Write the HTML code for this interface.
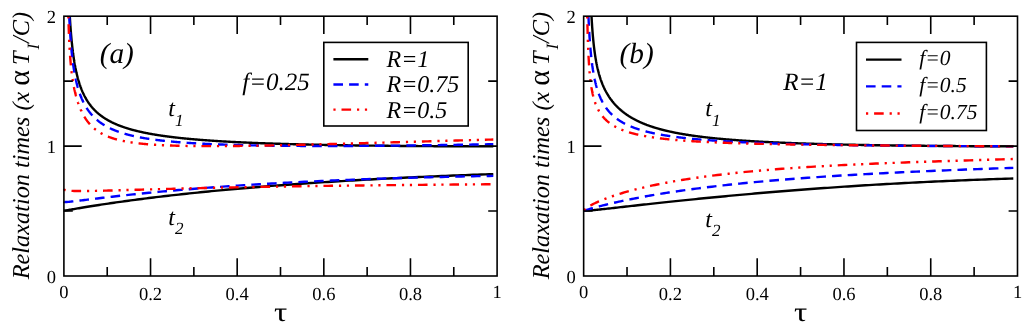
<!DOCTYPE html>
<html><head><meta charset="utf-8"><title>Relaxation times</title>
<style>
html,body{margin:0;padding:0;background:#fff;}
body{width:1024px;height:328px;overflow:hidden;font-family:"Liberation Serif",serif;}
svg{display:block;will-change:transform;text-rendering:geometricPrecision}
text{font-family:"Liberation Serif",serif;fill:#000}
.tk{font-size:18.5px}
.yl{font-size:24.3px;font-style:italic}
.yl .sym{font-style:normal;font-size:30px}
.sub{font-size:71%}
.tau{font-size:27px}
.pl{font-size:29.3px;font-style:italic}
.lab{font-size:24px;font-style:italic}
.lb{font-size:21.5px;font-style:italic}
.an{font-size:25px;font-style:italic}
</style></head><body>
<svg width="1024" height="328" viewBox="0 0 1024 328">
<rect width="1024" height="328" fill="#fff"/>
<path d="M69.80,16.20 L69.81,16.40 L69.84,17.02 L69.88,17.63 L69.92,18.24 L69.95,18.85 L69.99,19.45 L70.03,20.05 L70.07,20.64 L70.10,21.24 L70.14,21.83 L70.18,22.41 L70.22,23.00 L70.26,23.58 L70.30,24.15 L70.34,24.73 L70.38,25.30 L70.42,25.87 L70.46,26.43 L70.50,26.99 L70.54,27.55 L70.58,28.11 L70.62,28.66 L70.66,29.21 L70.70,29.75 L70.74,30.30 L70.79,30.84 L70.83,31.38 L70.87,31.91 L70.91,32.44 L70.96,32.97 L71.00,33.50 L71.04,34.02 L71.09,34.54 L71.13,35.06 L71.18,35.58 L71.22,36.09 L71.27,36.60 L71.31,37.11 L71.36,37.61 L71.40,38.12 L71.45,38.62 L71.50,39.11 L71.54,39.61 L71.59,40.10 L71.64,40.59 L71.68,41.08 L71.73,41.56 L71.78,42.04 L71.83,42.52 L71.88,43.00 L71.93,43.48 L71.98,43.95 L72.03,44.42 L72.08,44.89 L72.13,45.35 L72.18,45.82 L72.23,46.28 L72.28,46.74 L72.33,47.19 L72.38,47.65 L72.43,48.10 L72.49,48.55 L72.54,49.00 L72.59,49.44 L72.65,49.89 L72.70,50.33 L72.75,50.77 L72.81,51.20 L72.86,51.64 L72.92,52.07 L72.97,52.50 L73.03,52.93 L73.09,53.36 L73.14,53.78 L73.20,54.20 L73.26,54.63 L73.31,55.04 L73.37,55.46 L73.43,55.87 L73.49,56.29 L73.55,56.70 L73.61,57.11 L73.67,57.51 L73.73,57.92 L73.79,58.32 L73.85,58.72 L73.91,59.12 L73.97,59.52 L74.03,59.92 L74.09,60.31 L74.16,60.70 L74.22,61.09 L74.28,61.48 L74.35,61.87 L74.41,62.25 L74.48,62.64 L74.54,63.02 L74.61,63.40 L74.67,63.78 L74.74,64.15 L74.81,64.53 L74.87,64.90 L74.94,65.27 L75.01,65.64 L75.08,66.01 L75.15,66.38 L75.21,66.74 L75.28,67.11 L75.35,67.47 L75.43,67.83 L75.50,68.19 L75.57,68.54 L75.64,68.90 L75.71,69.25 L75.78,69.61 L75.86,69.96 L75.93,70.31 L76.00,70.65 L76.08,71.00 L76.15,71.34 L76.23,71.69 L76.31,72.03 L76.38,72.37 L76.46,72.71 L76.54,73.05 L76.61,73.38 L76.69,73.72 L76.77,74.05 L76.85,74.38 L76.93,74.71 L77.01,75.04 L77.09,75.37 L77.17,75.70 L77.25,76.02 L77.33,76.34 L77.42,76.67 L77.50,76.99 L77.58,77.31 L77.67,77.62 L77.75,77.94 L77.84,78.26 L77.92,78.57 L78.01,78.88 L78.10,79.20 L78.18,79.51 L78.27,79.82 L78.36,80.12 L78.45,80.43 L78.54,80.74 L78.63,81.04 L78.72,81.34 L78.81,81.64 L78.90,81.94 L78.99,82.24 L79.09,82.54 L79.18,82.84 L79.27,83.13 L79.37,83.43 L79.46,83.72 L79.56,84.01 L79.66,84.30 L79.75,84.59 L79.85,84.88 L79.95,85.17 L80.05,85.46 L80.15,85.74 L80.25,86.03 L80.35,86.31 L80.45,86.59 L80.55,86.87 L80.65,87.15 L80.76,87.43 L80.86,87.71 L80.96,87.98 L81.07,88.26 L81.17,88.53 L81.28,88.80 L81.39,89.08 L81.50,89.35 L81.60,89.62 L81.71,89.89 L81.82,90.15 L81.93,90.42 L82.04,90.68 L82.15,90.95 L82.27,91.21 L82.38,91.48 L82.49,91.74 L82.61,92.00 L82.72,92.26 L82.84,92.52 L82.96,92.77 L83.07,93.03 L83.19,93.29 L83.31,93.54 L83.43,93.79 L83.55,94.05 L83.67,94.30 L83.79,94.55 L83.91,94.80 L84.04,95.05 L84.16,95.29 L84.28,95.54 L84.41,95.79 L84.54,96.03 L84.66,96.28 L84.79,96.52 L84.92,96.76 L85.05,97.00 L85.18,97.24 L85.31,97.48 L85.44,97.72 L85.57,97.96 L85.71,98.20 L85.84,98.43 L85.98,98.67 L86.11,98.90 L86.25,99.13 L86.39,99.37 L86.52,99.60 L86.66,99.83 L86.80,100.06 L86.94,100.29 L87.09,100.51 L87.23,100.74 L87.37,100.97 L87.52,101.19 L87.66,101.42 L87.81,101.64 L87.96,101.86 L88.10,102.09 L88.25,102.31 L88.40,102.53 L88.55,102.75 L88.70,102.97 L88.86,103.18 L89.01,103.40 L89.16,103.62 L89.32,103.83 L89.48,104.05 L89.63,104.26 L89.79,104.48 L89.95,104.69 L90.11,104.90 L90.27,105.11 L90.44,105.32 L90.60,105.53 L90.76,105.74 L90.93,105.95 L91.09,106.15 L91.26,106.36 L91.43,106.56 L91.60,106.77 L91.77,106.97 L91.94,107.18 L92.11,107.38 L92.29,107.58 L92.46,107.78 L92.64,107.98 L92.81,108.18 L92.99,108.38 L93.17,108.58 L93.35,108.77 L93.53,108.97 L93.71,109.16 L93.90,109.36 L94.08,109.55 L94.27,109.75 L94.45,109.94 L94.64,110.13 L94.83,110.32 L95.02,110.51 L95.21,110.70 L95.41,110.89 L95.60,111.08 L95.79,111.27 L95.99,111.46 L96.19,111.64 L96.39,111.83 L96.59,112.01 L96.79,112.20 L96.99,112.38 L97.19,112.56 L97.40,112.75 L97.60,112.93 L97.81,113.11 L98.02,113.29 L98.23,113.47 L98.44,113.65 L98.65,113.82 L98.87,114.00 L99.08,114.18 L99.30,114.35 L99.52,114.53 L99.74,114.70 L99.96,114.88 L100.18,115.05 L100.40,115.23 L100.63,115.40 L100.85,115.57 L101.08,115.74 L101.31,115.91 L101.54,116.08 L101.77,116.25 L102.00,116.42 L102.24,116.58 L102.47,116.75 L102.71,116.92 L102.95,117.08 L103.19,117.25 L103.43,117.41 L103.67,117.58 L103.92,117.74 L104.16,117.90 L104.41,118.07 L104.66,118.23 L104.91,118.39 L105.16,118.55 L105.42,118.71 L105.67,118.87 L105.93,119.02 L106.19,119.18 L106.45,119.34 L106.71,119.50 L106.97,119.65 L107.24,119.81 L107.50,119.96 L107.77,120.12 L108.04,120.27 L108.31,120.42 L108.59,120.57 L108.86,120.73 L109.14,120.88 L109.42,121.03 L109.70,121.18 L109.98,121.33 L110.26,121.48 L110.55,121.62 L110.83,121.77 L111.12,121.92 L111.41,122.07 L111.71,122.21 L112.00,122.36 L112.30,122.50 L112.59,122.65 L112.89,122.79 L113.19,122.93 L113.50,123.07 L113.80,123.22 L114.11,123.36 L114.42,123.50 L114.73,123.64 L115.04,123.78 L115.36,123.92 L115.67,124.06 L115.99,124.19 L116.31,124.33 L116.63,124.47 L116.96,124.60 L117.28,124.74 L117.61,124.88 L117.94,125.01 L118.28,125.14 L118.61,125.28 L118.95,125.41 L119.28,125.54 L119.63,125.68 L119.97,125.81 L120.31,125.94 L120.66,126.07 L121.01,126.20 L121.36,126.33 L121.71,126.46 L122.07,126.59 L122.43,126.71 L122.79,126.84 L123.15,126.97 L123.51,127.09 L123.88,127.22 L124.25,127.34 L124.62,127.47 L124.99,127.59 L125.37,127.72 L125.75,127.84 L126.13,127.96 L126.51,128.08 L126.90,128.21 L127.28,128.33 L127.67,128.45 L128.07,128.57 L128.46,128.69 L128.86,128.81 L129.26,128.92 L129.66,129.04 L130.06,129.16 L130.47,129.28 L130.88,129.39 L131.29,129.51 L131.71,129.62 L132.12,129.74 L132.54,129.85 L132.97,129.97 L133.39,130.08 L133.82,130.19 L134.25,130.31 L134.68,130.42 L135.12,130.53 L135.55,130.64 L135.99,130.75 L136.44,130.86 L136.88,130.97 L137.33,131.08 L137.79,131.19 L138.24,131.30 L138.70,131.41 L139.16,131.51 L139.62,131.62 L140.09,131.73 L140.55,131.83 L141.03,131.94 L141.50,132.04 L141.98,132.15 L142.46,132.25 L142.94,132.36 L143.43,132.46 L143.92,132.56 L144.41,132.66 L144.90,132.76 L145.40,132.87 L145.90,132.97 L146.41,133.07 L146.91,133.17 L147.43,133.27 L147.94,133.37 L148.46,133.46 L148.98,133.56 L149.50,133.66 L150.03,133.76 L150.56,133.85 L151.09,133.95 L151.62,134.05 L152.16,134.14 L152.71,134.24 L153.25,134.33 L153.80,134.42 L154.36,134.52 L154.91,134.61 L155.47,134.70 L156.04,134.80 L156.60,134.89 L157.17,134.98 L157.75,135.07 L158.32,135.16 L158.90,135.25 L159.49,135.34 L160.08,135.43 L160.67,135.52 L161.26,135.61 L161.86,135.69 L162.46,135.78 L163.07,135.87 L163.68,135.96 L164.29,136.04 L164.91,136.13 L165.53,136.21 L166.16,136.30 L166.79,136.38 L167.42,136.47 L168.06,136.55 L168.70,136.63 L169.34,136.72 L169.99,136.80 L170.64,136.88 L171.30,136.96 L171.96,137.05 L172.63,137.13 L173.29,137.21 L173.97,137.29 L174.64,137.37 L175.33,137.45 L176.01,137.52 L176.70,137.60 L177.39,137.68 L178.09,137.76 L178.79,137.84 L179.50,137.91 L180.21,137.99 L180.93,138.07 L181.65,138.14 L182.37,138.22 L183.10,138.29 L183.83,138.37 L184.57,138.44 L185.31,138.51 L186.06,138.59 L186.81,138.66 L187.57,138.73 L188.33,138.80 L189.09,138.88 L189.86,138.95 L190.64,139.02 L191.42,139.09 L192.20,139.16 L192.99,139.23 L193.79,139.30 L194.58,139.37 L195.39,139.44 L196.20,139.51 L197.01,139.57 L197.83,139.64 L198.65,139.71 L199.48,139.77 L200.32,139.84 L201.16,139.91 L202.00,139.97 L202.85,140.04 L203.70,140.10 L204.56,140.17 L205.43,140.23 L206.30,140.30 L207.17,140.36 L208.06,140.42 L208.94,140.49 L209.83,140.55 L210.73,140.61 L211.64,140.67 L212.54,140.73 L213.46,140.79 L214.38,140.85 L215.30,140.92 L216.24,140.97 L217.17,141.03 L218.12,141.09 L219.06,141.15 L220.02,141.21 L220.98,141.27 L221.94,141.33 L222.92,141.38 L223.89,141.44 L224.88,141.50 L225.87,141.55 L226.87,141.61 L227.87,141.67 L228.88,141.72 L229.89,141.78 L230.91,141.83 L231.94,141.89 L232.97,141.94 L234.01,141.99 L235.06,142.05 L236.11,142.10 L237.17,142.15 L238.24,142.20 L239.31,142.26 L240.39,142.31 L241.47,142.36 L242.57,142.41 L243.66,142.46 L244.77,142.51 L245.88,142.56 L247.00,142.61 L248.13,142.66 L249.26,142.71 L250.40,142.76 L251.55,142.80 L252.70,142.85 L253.86,142.90 L255.03,142.95 L256.21,142.99 L257.39,143.04 L258.58,143.09 L259.78,143.13 L260.98,143.18 L262.20,143.22 L263.42,143.27 L264.64,143.31 L265.88,143.36 L267.12,143.40 L268.37,143.45 L269.63,143.49 L270.89,143.53 L272.17,143.57 L273.45,143.62 L274.74,143.66 L276.03,143.70 L277.34,143.74 L278.65,143.78 L279.97,143.82 L281.30,143.86 L282.64,143.90 L283.98,143.94 L285.34,143.98 L286.70,144.02 L288.07,144.06 L289.45,144.10 L290.83,144.14 L292.23,144.17 L293.64,144.21 L295.05,144.25 L296.47,144.29 L297.90,144.32 L299.34,144.36 L300.79,144.40 L302.24,144.43 L303.71,144.47 L305.19,144.50 L306.67,144.54 L308.16,144.57 L309.67,144.60 L311.18,144.64 L312.70,144.67 L314.23,144.70 L315.77,144.74 L317.32,144.77 L318.88,144.80 L320.44,144.83 L322.02,144.87 L323.61,144.90 L325.21,144.93 L326.81,144.96 L328.43,144.99 L330.06,145.02 L331.70,145.05 L333.34,145.08 L335.00,145.11 L336.67,145.14 L338.35,145.16 L340.03,145.19 L341.73,145.22 L343.44,145.25 L345.16,145.28 L346.89,145.30 L348.63,145.33 L350.38,145.35 L352.14,145.38 L353.92,145.41 L355.70,145.43 L357.50,145.46 L359.30,145.48 L361.12,145.51 L362.95,145.53 L364.79,145.55 L366.64,145.58 L368.50,145.60 L370.37,145.62 L372.26,145.65 L374.15,145.67 L376.06,145.69 L377.98,145.71 L379.92,145.73 L381.86,145.75 L383.81,145.78 L385.78,145.80 L387.76,145.82 L389.75,145.84 L391.76,145.85 L393.77,145.87 L395.80,145.89 L397.85,145.91 L399.90,145.93 L401.97,145.95 L404.05,145.96 L406.14,145.98 L408.24,146.00 L410.36,146.02 L412.49,146.03 L414.64,146.05 L416.79,146.06 L418.96,146.08 L421.15,146.09 L423.35,146.11 L425.56,146.12 L427.78,146.14 L430.02,146.15 L432.27,146.16 L434.54,146.18 L436.82,146.19 L439.11,146.20 L441.42,146.21 L443.74,146.23 L446.08,146.24 L448.43,146.25 L450.79,146.26 L453.17,146.27 L455.57,146.28 L457.97,146.29 L460.40,146.30 L462.84,146.31 L465.29,146.32 L467.76,146.32 L470.24,146.33 L472.74,146.34 L475.26,146.35 L477.79,146.35 L480.33,146.36 L482.90,146.37 L485.47,146.37 L488.07,146.38 L490.67,146.38 L493.30,146.39" stroke="#000" stroke-width="2.4" fill="none"/>
<path d="M63.90,210.51 L64.11,210.57 L64.51,210.56 L65.01,210.51 L65.61,210.43 L66.29,210.34 L67.05,210.22 L67.87,210.09 L68.75,209.95 L69.68,209.79 L70.67,209.62 L71.71,209.45 L72.80,209.26 L73.94,209.07 L75.12,208.87 L76.34,208.66 L77.61,208.44 L78.91,208.22 L80.26,208.00 L81.64,207.76 L83.06,207.53 L84.51,207.29 L86.00,207.04 L87.52,206.79 L89.08,206.54 L90.67,206.28 L92.29,206.02 L93.95,205.76 L95.63,205.49 L97.35,205.23 L99.09,204.96 L100.87,204.68 L102.67,204.41 L104.50,204.13 L106.36,203.85 L108.25,203.57 L110.16,203.29 L112.10,203.00 L114.07,202.72 L116.06,202.43 L118.08,202.15 L120.13,201.86 L122.20,201.57 L124.29,201.28 L126.41,200.99 L128.55,200.70 L130.72,200.41 L132.91,200.11 L135.12,199.82 L137.36,199.53 L139.62,199.23 L141.90,198.94 L144.21,198.65 L146.54,198.35 L148.89,198.06 L151.26,197.77 L153.65,197.47 L156.07,197.18 L158.50,196.89 L160.96,196.60 L163.44,196.31 L165.94,196.01 L168.46,195.72 L171.00,195.43 L173.56,195.14 L176.14,194.86 L178.74,194.57 L181.36,194.28 L184.00,193.99 L186.66,193.71 L189.33,193.42 L192.03,193.14 L194.75,192.86 L197.48,192.57 L200.24,192.29 L203.01,192.01 L205.80,191.73 L208.61,191.46 L211.44,191.18 L214.29,190.90 L217.15,190.63 L220.03,190.36 L222.93,190.08 L225.85,189.81 L228.79,189.54 L231.74,189.27 L234.71,189.01 L237.70,188.74 L240.70,188.48 L243.73,188.22 L246.76,187.95 L249.82,187.70 L252.89,187.44 L255.98,187.18 L259.09,186.93 L262.21,186.67 L265.35,186.42 L268.51,186.17 L271.68,185.92 L274.87,185.67 L278.07,185.43 L281.29,185.18 L284.53,184.94 L287.78,184.70 L291.05,184.46 L294.34,184.22 L297.64,183.99 L300.95,183.75 L304.28,183.52 L307.63,183.29 L310.99,183.06 L314.37,182.83 L317.76,182.61 L321.17,182.38 L324.59,182.16 L328.03,181.94 L331.48,181.72 L334.95,181.51 L338.43,181.29 L341.93,181.08 L345.44,180.87 L348.97,180.66 L352.51,180.45 L356.06,180.25 L359.63,180.04 L363.22,179.84 L366.82,179.64 L370.43,179.44 L374.06,179.25 L377.70,179.05 L381.35,178.86 L385.02,178.67 L388.71,178.48 L392.41,178.30 L396.12,178.11 L399.84,177.93 L403.58,177.75 L407.34,177.57 L411.10,177.39 L414.88,177.22 L418.68,177.04 L422.49,176.87 L426.31,176.70 L430.14,176.53 L433.99,176.37 L437.85,176.20 L441.73,176.04 L445.62,175.88 L449.52,175.72 L453.43,175.57 L457.36,175.41 L461.30,175.26 L465.26,175.11 L469.23,174.96 L473.21,174.82 L477.20,174.67 L481.20,174.53 L485.22,174.39 L489.26,174.25 L493.30,174.11" stroke="#000" stroke-width="2.4" fill="none"/>
<path d="M69.26,16.20 L69.29,16.73 L69.32,17.46 L69.35,18.18 L69.39,18.90 L69.42,19.61 L69.46,20.32 L69.49,21.02 L69.52,21.71 L69.56,22.40 L69.59,23.08 L69.63,23.76 L69.66,24.44 L69.70,25.10 L69.73,25.77 L69.77,26.42 L69.81,27.08 L69.84,27.73 L69.88,28.37 L69.92,29.01 L69.95,29.64 L69.99,30.27 L70.03,30.89 L70.07,31.51 L70.10,32.13 L70.14,32.74 L70.18,33.34 L70.22,33.94 L70.26,34.54 L70.30,35.13 L70.34,35.72 L70.38,36.31 L70.42,36.89 L70.46,37.46 L70.50,38.03 L70.54,38.60 L70.58,39.17 L70.62,39.73 L70.66,40.28 L70.70,40.83 L70.74,41.38 L70.79,41.93 L70.83,42.47 L70.87,43.01 L70.91,43.54 L70.96,44.07 L71.00,44.60 L71.04,45.12 L71.09,45.64 L71.13,46.16 L71.18,46.67 L71.22,47.18 L71.27,47.69 L71.31,48.19 L71.36,48.69 L71.40,49.19 L71.45,49.68 L71.50,50.17 L71.54,50.66 L71.59,51.15 L71.64,51.63 L71.68,52.11 L71.73,52.58 L71.78,53.05 L71.83,53.52 L71.88,53.99 L71.93,54.46 L71.98,54.92 L72.03,55.38 L72.08,55.83 L72.13,56.29 L72.18,56.74 L72.23,57.18 L72.28,57.63 L72.33,58.07 L72.38,58.51 L72.43,58.95 L72.49,59.39 L72.54,59.82 L72.59,60.25 L72.65,60.68 L72.70,61.10 L72.75,61.53 L72.81,61.95 L72.86,62.36 L72.92,62.78 L72.97,63.19 L73.03,63.61 L73.09,64.02 L73.14,64.42 L73.20,64.83 L73.26,65.23 L73.31,65.63 L73.37,66.03 L73.43,66.43 L73.49,66.82 L73.55,67.21 L73.61,67.60 L73.67,67.99 L73.73,68.38 L73.79,68.76 L73.85,69.15 L73.91,69.53 L73.97,69.91 L74.03,70.28 L74.09,70.66 L74.16,71.03 L74.22,71.40 L74.28,71.77 L74.35,72.14 L74.41,72.50 L74.48,72.87 L74.54,73.23 L74.61,73.59 L74.67,73.95 L74.74,74.31 L74.81,74.66 L74.87,75.01 L74.94,75.37 L75.01,75.72 L75.08,76.06 L75.15,76.41 L75.21,76.76 L75.28,77.10 L75.35,77.44 L75.43,77.78 L75.50,78.12 L75.57,78.46 L75.64,78.80 L75.71,79.13 L75.78,79.46 L75.86,79.79 L75.93,80.12 L76.00,80.45 L76.08,80.78 L76.15,81.10 L76.23,81.43 L76.31,81.75 L76.38,82.07 L76.46,82.39 L76.54,82.71 L76.61,83.03 L76.69,83.34 L76.77,83.66 L76.85,83.97 L76.93,84.28 L77.01,84.59 L77.09,84.90 L77.17,85.21 L77.25,85.52 L77.33,85.82 L77.42,86.13 L77.50,86.43 L77.58,86.73 L77.67,87.03 L77.75,87.33 L77.84,87.63 L77.92,87.92 L78.01,88.22 L78.10,88.51 L78.18,88.81 L78.27,89.10 L78.36,89.39 L78.45,89.68 L78.54,89.96 L78.63,90.25 L78.72,90.54 L78.81,90.82 L78.90,91.11 L78.99,91.39 L79.09,91.67 L79.18,91.95 L79.27,92.23 L79.37,92.51 L79.46,92.78 L79.56,93.06 L79.66,93.33 L79.75,93.61 L79.85,93.88 L79.95,94.15 L80.05,94.42 L80.15,94.69 L80.25,94.96 L80.35,95.23 L80.45,95.49 L80.55,95.76 L80.65,96.02 L80.76,96.29 L80.86,96.55 L80.96,96.81 L81.07,97.07 L81.17,97.33 L81.28,97.59 L81.39,97.84 L81.50,98.10 L81.60,98.36 L81.71,98.61 L81.82,98.86 L81.93,99.12 L82.04,99.37 L82.15,99.62 L82.27,99.87 L82.38,100.12 L82.49,100.36 L82.61,100.61 L82.72,100.86 L82.84,101.10 L82.96,101.35 L83.07,101.59 L83.19,101.83 L83.31,102.07 L83.43,102.31 L83.55,102.55 L83.67,102.79 L83.79,103.03 L83.91,103.26 L84.04,103.50 L84.16,103.74 L84.28,103.97 L84.41,104.20 L84.54,104.44 L84.66,104.67 L84.79,104.90 L84.92,105.13 L85.05,105.36 L85.18,105.58 L85.31,105.81 L85.44,106.04 L85.57,106.26 L85.71,106.49 L85.84,106.71 L85.98,106.94 L86.11,107.16 L86.25,107.38 L86.39,107.60 L86.52,107.82 L86.66,108.04 L86.80,108.26 L86.94,108.47 L87.09,108.69 L87.23,108.91 L87.37,109.12 L87.52,109.33 L87.66,109.55 L87.81,109.76 L87.96,109.97 L88.10,110.18 L88.25,110.39 L88.40,110.60 L88.55,110.81 L88.70,111.02 L88.86,111.22 L89.01,111.43 L89.16,111.64 L89.32,111.84 L89.48,112.04 L89.63,112.25 L89.79,112.45 L89.95,112.65 L90.11,112.85 L90.27,113.05 L90.44,113.25 L90.60,113.45 L90.76,113.65 L90.93,113.84 L91.09,114.04 L91.26,114.23 L91.43,114.43 L91.60,114.62 L91.77,114.81 L91.94,115.01 L92.11,115.20 L92.29,115.39 L92.46,115.58 L92.64,115.77 L92.81,115.96 L92.99,116.15 L93.17,116.33 L93.35,116.52 L93.53,116.70 L93.71,116.89 L93.90,117.07 L94.08,117.26 L94.27,117.44 L94.45,117.62 L94.64,117.80 L94.83,117.98 L95.02,118.16 L95.21,118.34 L95.41,118.52 L95.60,118.70 L95.79,118.87 L95.99,119.05 L96.19,119.23 L96.39,119.40 L96.59,119.58 L96.79,119.75 L96.99,119.92 L97.19,120.09 L97.40,120.26 L97.60,120.44 L97.81,120.60 L98.02,120.77 L98.23,120.94 L98.44,121.11 L98.65,121.28 L98.87,121.44 L99.08,121.61 L99.30,121.77 L99.52,121.94 L99.74,122.10 L99.96,122.27 L100.18,122.43 L100.40,122.59 L100.63,122.75 L100.85,122.91 L101.08,123.07 L101.31,123.23 L101.54,123.39 L101.77,123.54 L102.00,123.70 L102.24,123.86 L102.47,124.01 L102.71,124.17 L102.95,124.32 L103.19,124.47 L103.43,124.63 L103.67,124.78 L103.92,124.93 L104.16,125.08 L104.41,125.23 L104.66,125.38 L104.91,125.53 L105.16,125.68 L105.42,125.82 L105.67,125.97 L105.93,126.12 L106.19,126.26 L106.45,126.41 L106.71,126.55 L106.97,126.70 L107.24,126.84 L107.50,126.98 L107.77,127.12 L108.04,127.26 L108.31,127.40 L108.59,127.54 L108.86,127.68 L109.14,127.82 L109.42,127.96 L109.70,128.10 L109.98,128.23 L110.26,128.37 L110.55,128.50 L110.83,128.64 L111.12,128.77 L111.41,128.90 L111.71,129.04 L112.00,129.17 L112.30,129.30 L112.59,129.43 L112.89,129.56 L113.19,129.69 L113.50,129.82 L113.80,129.95 L114.11,130.08 L114.42,130.20 L114.73,130.33 L115.04,130.46 L115.36,130.58 L115.67,130.71 L115.99,130.83 L116.31,130.95 L116.63,131.08 L116.96,131.20 L117.28,131.32 L117.61,131.44 L117.94,131.56 L118.28,131.68 L118.61,131.80 L118.95,131.92 L119.28,132.04 L119.63,132.15 L119.97,132.27 L120.31,132.39 L120.66,132.50 L121.01,132.62 L121.36,132.73 L121.71,132.84 L122.07,132.96 L122.43,133.07 L122.79,133.18 L123.15,133.29 L123.51,133.40 L123.88,133.52 L124.25,133.62 L124.62,133.73 L124.99,133.84 L125.37,133.95 L125.75,134.06 L126.13,134.16 L126.51,134.27 L126.90,134.38 L127.28,134.48 L127.67,134.59 L128.07,134.69 L128.46,134.79 L128.86,134.90 L129.26,135.00 L129.66,135.10 L130.06,135.20 L130.47,135.30 L130.88,135.40 L131.29,135.50 L131.71,135.60 L132.12,135.70 L132.54,135.80 L132.97,135.89 L133.39,135.99 L133.82,136.09 L134.25,136.18 L134.68,136.28 L135.12,136.37 L135.55,136.47 L135.99,136.56 L136.44,136.65 L136.88,136.75 L137.33,136.84 L137.79,136.93 L138.24,137.02 L138.70,137.11 L139.16,137.20 L139.62,137.29 L140.09,137.38 L140.55,137.47 L141.03,137.55 L141.50,137.64 L141.98,137.73 L142.46,137.81 L142.94,137.90 L143.43,137.99 L143.92,138.07 L144.41,138.15 L144.90,138.24 L145.40,138.32 L145.90,138.40 L146.41,138.48 L146.91,138.57 L147.43,138.65 L147.94,138.73 L148.46,138.81 L148.98,138.89 L149.50,138.97 L150.03,139.04 L150.56,139.12 L151.09,139.20 L151.62,139.28 L152.16,139.35 L152.71,139.43 L153.25,139.51 L153.80,139.58 L154.36,139.65 L154.91,139.73 L155.47,139.80 L156.04,139.88 L156.60,139.95 L157.17,140.02 L157.75,140.09 L158.32,140.16 L158.90,140.23 L159.49,140.30 L160.08,140.37 L160.67,140.44 L161.26,140.51 L161.86,140.58 L162.46,140.65 L163.07,140.71 L163.68,140.78 L164.29,140.85 L164.91,140.91 L165.53,140.98 L166.16,141.04 L166.79,141.11 L167.42,141.17 L168.06,141.24 L168.70,141.30 L169.34,141.36 L169.99,141.42 L170.64,141.49 L171.30,141.55 L171.96,141.61 L172.63,141.67 L173.29,141.73 L173.97,141.79 L174.64,141.85 L175.33,141.91 L176.01,141.96 L176.70,142.02 L177.39,142.08 L178.09,142.14 L178.79,142.19 L179.50,142.25 L180.21,142.30 L180.93,142.36 L181.65,142.41 L182.37,142.47 L183.10,142.52 L183.83,142.58 L184.57,142.63 L185.31,142.68 L186.06,142.73 L186.81,142.78 L187.57,142.84 L188.33,142.89 L189.09,142.94 L189.86,142.99 L190.64,143.04 L191.42,143.08 L192.20,143.13 L192.99,143.18 L193.79,143.23 L194.58,143.28 L195.39,143.32 L196.20,143.37 L197.01,143.42 L197.83,143.46 L198.65,143.51 L199.48,143.55 L200.32,143.60 L201.16,143.64 L202.00,143.68 L202.85,143.73 L203.70,143.77 L204.56,143.81 L205.43,143.85 L206.30,143.90 L207.17,143.94 L208.06,143.98 L208.94,144.02 L209.83,144.06 L210.73,144.10 L211.64,144.14 L212.54,144.17 L213.46,144.21 L214.38,144.25 L215.30,144.29 L216.24,144.32 L217.17,144.36 L218.12,144.40 L219.06,144.43 L220.02,144.47 L220.98,144.50 L221.94,144.54 L222.92,144.57 L223.89,144.61 L224.88,144.64 L225.87,144.67 L226.87,144.70 L227.87,144.74 L228.88,144.77 L229.89,144.80 L230.91,144.83 L231.94,144.86 L232.97,144.89 L234.01,144.92 L235.06,144.95 L236.11,144.98 L237.17,145.01 L238.24,145.04 L239.31,145.06 L240.39,145.09 L241.47,145.12 L242.57,145.14 L243.66,145.17 L244.77,145.20 L245.88,145.22 L247.00,145.25 L248.13,145.27 L249.26,145.30 L250.40,145.32 L251.55,145.34 L252.70,145.37 L253.86,145.39 L255.03,145.41 L256.21,145.43 L257.39,145.45 L258.58,145.47 L259.78,145.49 L260.98,145.51 L262.20,145.53 L263.42,145.55 L264.64,145.57 L265.88,145.59 L267.12,145.61 L268.37,145.63 L269.63,145.64 L270.89,145.66 L272.17,145.68 L273.45,145.69 L274.74,145.71 L276.03,145.72 L277.34,145.74 L278.65,145.75 L279.97,145.77 L281.30,145.78 L282.64,145.79 L283.98,145.81 L285.34,145.82 L286.70,145.83 L288.07,145.84 L289.45,145.85 L290.83,145.86 L292.23,145.87 L293.64,145.88 L295.05,145.89 L296.47,145.90 L297.90,145.91 L299.34,145.92 L300.79,145.93 L302.24,145.93 L303.71,145.94 L305.19,145.95 L306.67,145.95 L308.16,145.96 L309.67,145.96 L311.18,145.97 L312.70,145.97 L314.23,145.98 L315.77,145.98 L317.32,145.98 L318.88,145.99 L320.44,145.99 L322.02,145.99 L323.61,145.99 L325.21,145.99 L326.81,145.99 L328.43,145.99 L330.06,145.99 L331.70,145.99 L333.34,145.99 L335.00,145.98 L336.67,145.98 L338.35,145.98 L340.03,145.97 L341.73,145.97 L343.44,145.97 L345.16,145.96 L346.89,145.95 L348.63,145.95 L350.38,145.94 L352.14,145.93 L353.92,145.93 L355.70,145.92 L357.50,145.91 L359.30,145.90 L361.12,145.89 L362.95,145.88 L364.79,145.87 L366.64,145.86 L368.50,145.85 L370.37,145.84 L372.26,145.82 L374.15,145.81 L376.06,145.80 L377.98,145.78 L379.92,145.77 L381.86,145.75 L383.81,145.73 L385.78,145.72 L387.76,145.70 L389.75,145.68 L391.76,145.66 L393.77,145.64 L395.80,145.62 L397.85,145.60 L399.90,145.58 L401.97,145.56 L404.05,145.54 L406.14,145.52 L408.24,145.49 L410.36,145.47 L412.49,145.45 L414.64,145.42 L416.79,145.39 L418.96,145.37 L421.15,145.34 L423.35,145.31 L425.56,145.28 L427.78,145.26 L430.02,145.23 L432.27,145.20 L434.54,145.16 L436.82,145.13 L439.11,145.10 L441.42,145.07 L443.74,145.03 L446.08,145.00 L448.43,144.96 L450.79,144.93 L453.17,144.89 L455.57,144.85 L457.97,144.81 L460.40,144.77 L462.84,144.73 L465.29,144.69 L467.76,144.65 L470.24,144.61 L472.74,144.56 L475.26,144.52 L477.79,144.47 L480.33,144.43 L482.90,144.38 L485.47,144.33 L488.07,144.28 L490.67,144.23 L493.30,144.18" stroke="#0000ff" stroke-width="2.4" stroke-dasharray="9.6 6.1" fill="none"/>
<path d="M63.90,201.66 L64.11,201.88 L64.51,201.97 L65.01,202.01 L65.61,202.02 L66.29,202.00 L67.05,201.96 L67.87,201.91 L68.75,201.83 L69.68,201.75 L70.67,201.65 L71.71,201.54 L72.80,201.42 L73.94,201.29 L75.12,201.16 L76.34,201.01 L77.61,200.86 L78.91,200.70 L80.26,200.54 L81.64,200.37 L83.06,200.19 L84.51,200.01 L86.00,199.83 L87.52,199.64 L89.08,199.45 L90.67,199.25 L92.29,199.05 L93.95,198.85 L95.63,198.65 L97.35,198.44 L99.09,198.23 L100.87,198.02 L102.67,197.80 L104.50,197.58 L106.36,197.37 L108.25,197.15 L110.16,196.92 L112.10,196.70 L114.07,196.48 L116.06,196.25 L118.08,196.02 L120.13,195.80 L122.20,195.57 L124.29,195.34 L126.41,195.11 L128.55,194.88 L130.72,194.65 L132.91,194.42 L135.12,194.19 L137.36,193.96 L139.62,193.72 L141.90,193.49 L144.21,193.26 L146.54,193.03 L148.89,192.80 L151.26,192.57 L153.65,192.34 L156.07,192.11 L158.50,191.88 L160.96,191.65 L163.44,191.42 L165.94,191.19 L168.46,190.97 L171.00,190.74 L173.56,190.51 L176.14,190.29 L178.74,190.06 L181.36,189.84 L184.00,189.62 L186.66,189.40 L189.33,189.18 L192.03,188.96 L194.75,188.74 L197.48,188.52 L200.24,188.31 L203.01,188.09 L205.80,187.88 L208.61,187.67 L211.44,187.45 L214.29,187.24 L217.15,187.04 L220.03,186.83 L222.93,186.62 L225.85,186.42 L228.79,186.22 L231.74,186.01 L234.71,185.81 L237.70,185.61 L240.70,185.42 L243.73,185.22 L246.76,185.03 L249.82,184.84 L252.89,184.64 L255.98,184.45 L259.09,184.27 L262.21,184.08 L265.35,183.90 L268.51,183.71 L271.68,183.53 L274.87,183.35 L278.07,183.17 L281.29,183.00 L284.53,182.82 L287.78,182.65 L291.05,182.48 L294.34,182.31 L297.64,182.14 L300.95,181.98 L304.28,181.81 L307.63,181.65 L310.99,181.49 L314.37,181.33 L317.76,181.17 L321.17,181.02 L324.59,180.87 L328.03,180.71 L331.48,180.56 L334.95,180.42 L338.43,180.27 L341.93,180.13 L345.44,179.98 L348.97,179.84 L352.51,179.71 L356.06,179.57 L359.63,179.43 L363.22,179.30 L366.82,179.17 L370.43,179.04 L374.06,178.91 L377.70,178.79 L381.35,178.66 L385.02,178.54 L388.71,178.42 L392.41,178.30 L396.12,178.18 L399.84,178.07 L403.58,177.96 L407.34,177.85 L411.10,177.74 L414.88,177.63 L418.68,177.52 L422.49,177.42 L426.31,177.32 L430.14,177.22 L433.99,177.12 L437.85,177.02 L441.73,176.93 L445.62,176.84 L449.52,176.75 L453.43,176.66 L457.36,176.57 L461.30,176.48 L465.26,176.40 L469.23,176.32 L473.21,176.24 L477.20,176.16 L481.20,176.08 L485.22,176.01 L489.26,175.93 L493.30,175.86" stroke="#0000ff" stroke-width="2.4" stroke-dasharray="9.6 6.1" fill="none"/>
<path d="M68.36,16.20 L68.38,17.16 L68.41,18.17 L68.44,19.17 L68.47,20.15 L68.49,21.12 L68.52,22.07 L68.55,23.01 L68.58,23.94 L68.61,24.85 L68.64,25.75 L68.67,26.64 L68.70,27.52 L68.72,28.39 L68.75,29.24 L68.78,30.08 L68.81,30.91 L68.84,31.73 L68.88,32.54 L68.91,33.34 L68.94,34.13 L68.97,34.90 L69.00,35.67 L69.03,36.43 L69.06,37.18 L69.09,37.92 L69.13,38.65 L69.16,39.37 L69.19,40.08 L69.22,40.79 L69.25,41.48 L69.29,42.17 L69.32,42.85 L69.35,43.52 L69.39,44.18 L69.42,44.83 L69.46,45.48 L69.49,46.12 L69.52,46.75 L69.56,47.38 L69.59,48.00 L69.63,48.61 L69.66,49.21 L69.70,49.81 L69.73,50.40 L69.77,50.99 L69.81,51.57 L69.84,52.14 L69.88,52.71 L69.92,53.27 L69.95,53.82 L69.99,54.37 L70.03,54.92 L70.07,55.46 L70.10,55.99 L70.14,56.52 L70.18,57.04 L70.22,57.56 L70.26,58.07 L70.30,58.58 L70.34,59.08 L70.38,59.58 L70.42,60.07 L70.46,60.56 L70.50,61.05 L70.54,61.53 L70.58,62.00 L70.62,62.48 L70.66,62.94 L70.70,63.41 L70.74,63.87 L70.79,64.32 L70.83,64.77 L70.87,65.22 L70.91,65.67 L70.96,66.11 L71.00,66.54 L71.04,66.98 L71.09,67.41 L71.13,67.84 L71.18,68.26 L71.22,68.68 L71.27,69.10 L71.31,69.51 L71.36,69.92 L71.40,70.33 L71.45,70.73 L71.50,71.14 L71.54,71.54 L71.59,71.93 L71.64,72.32 L71.68,72.72 L71.73,73.10 L71.78,73.49 L71.83,73.87 L71.88,74.25 L71.93,74.63 L71.98,75.01 L72.03,75.38 L72.08,75.75 L72.13,76.12 L72.18,76.48 L72.23,76.85 L72.28,77.21 L72.33,77.57 L72.38,77.93 L72.43,78.28 L72.49,78.64 L72.54,78.99 L72.59,79.34 L72.65,79.68 L72.70,80.03 L72.75,80.37 L72.81,80.72 L72.86,81.06 L72.92,81.39 L72.97,81.73 L73.03,82.06 L73.09,82.40 L73.14,82.73 L73.20,83.06 L73.26,83.39 L73.31,83.71 L73.37,84.04 L73.43,84.36 L73.49,84.68 L73.55,85.00 L73.61,85.32 L73.67,85.64 L73.73,85.95 L73.79,86.27 L73.85,86.58 L73.91,86.89 L73.97,87.20 L74.03,87.51 L74.09,87.82 L74.16,88.13 L74.22,88.43 L74.28,88.74 L74.35,89.04 L74.41,89.34 L74.48,89.64 L74.54,89.94 L74.61,90.24 L74.67,90.53 L74.74,90.83 L74.81,91.12 L74.87,91.42 L74.94,91.71 L75.01,92.00 L75.08,92.29 L75.15,92.58 L75.21,92.87 L75.28,93.15 L75.35,93.44 L75.43,93.72 L75.50,94.01 L75.57,94.29 L75.64,94.57 L75.71,94.85 L75.78,95.13 L75.86,95.41 L75.93,95.69 L76.00,95.97 L76.08,96.24 L76.15,96.52 L76.23,96.79 L76.31,97.07 L76.38,97.34 L76.46,97.61 L76.54,97.88 L76.61,98.15 L76.69,98.42 L76.77,98.69 L76.85,98.96 L76.93,99.22 L77.01,99.49 L77.09,99.75 L77.17,100.02 L77.25,100.28 L77.33,100.54 L77.42,100.80 L77.50,101.06 L77.58,101.32 L77.67,101.58 L77.75,101.84 L77.84,102.10 L77.92,102.35 L78.01,102.61 L78.10,102.87 L78.18,103.12 L78.27,103.37 L78.36,103.63 L78.45,103.88 L78.54,104.13 L78.63,104.38 L78.72,104.63 L78.81,104.88 L78.90,105.13 L78.99,105.37 L79.09,105.62 L79.18,105.87 L79.27,106.11 L79.37,106.36 L79.46,106.60 L79.56,106.84 L79.66,107.08 L79.75,107.33 L79.85,107.57 L79.95,107.81 L80.05,108.05 L80.15,108.28 L80.25,108.52 L80.35,108.76 L80.45,108.99 L80.55,109.23 L80.65,109.46 L80.76,109.70 L80.86,109.93 L80.96,110.16 L81.07,110.39 L81.17,110.63 L81.28,110.86 L81.39,111.09 L81.50,111.31 L81.60,111.54 L81.71,111.77 L81.82,111.99 L81.93,112.22 L82.04,112.45 L82.15,112.67 L82.27,112.89 L82.38,113.12 L82.49,113.34 L82.61,113.56 L82.72,113.78 L82.84,114.00 L82.96,114.22 L83.07,114.43 L83.19,114.65 L83.31,114.87 L83.43,115.08 L83.55,115.30 L83.67,115.51 L83.79,115.73 L83.91,115.94 L84.04,116.15 L84.16,116.36 L84.28,116.57 L84.41,116.78 L84.54,116.99 L84.66,117.20 L84.79,117.41 L84.92,117.61 L85.05,117.82 L85.18,118.02 L85.31,118.23 L85.44,118.43 L85.57,118.63 L85.71,118.83 L85.84,119.03 L85.98,119.23 L86.11,119.43 L86.25,119.63 L86.39,119.83 L86.52,120.03 L86.66,120.22 L86.80,120.42 L86.94,120.61 L87.09,120.81 L87.23,121.00 L87.37,121.19 L87.52,121.38 L87.66,121.57 L87.81,121.76 L87.96,121.95 L88.10,122.14 L88.25,122.33 L88.40,122.51 L88.55,122.70 L88.70,122.88 L88.86,123.07 L89.01,123.25 L89.16,123.43 L89.32,123.61 L89.48,123.79 L89.63,123.97 L89.79,124.15 L89.95,124.33 L90.11,124.51 L90.27,124.69 L90.44,124.86 L90.60,125.04 L90.76,125.21 L90.93,125.38 L91.09,125.56 L91.26,125.73 L91.43,125.90 L91.60,126.07 L91.77,126.24 L91.94,126.41 L92.11,126.57 L92.29,126.74 L92.46,126.91 L92.64,127.07 L92.81,127.24 L92.99,127.40 L93.17,127.56 L93.35,127.72 L93.53,127.88 L93.71,128.04 L93.90,128.20 L94.08,128.36 L94.27,128.52 L94.45,128.68 L94.64,128.83 L94.83,128.99 L95.02,129.14 L95.21,129.29 L95.41,129.45 L95.60,129.60 L95.79,129.75 L95.99,129.90 L96.19,130.05 L96.39,130.20 L96.59,130.35 L96.79,130.49 L96.99,130.64 L97.19,130.78 L97.40,130.93 L97.60,131.07 L97.81,131.21 L98.02,131.36 L98.23,131.50 L98.44,131.64 L98.65,131.78 L98.87,131.92 L99.08,132.05 L99.30,132.19 L99.52,132.33 L99.74,132.46 L99.96,132.60 L100.18,132.73 L100.40,132.86 L100.63,133.00 L100.85,133.13 L101.08,133.26 L101.31,133.39 L101.54,133.52 L101.77,133.64 L102.00,133.77 L102.24,133.90 L102.47,134.02 L102.71,134.15 L102.95,134.27 L103.19,134.40 L103.43,134.52 L103.67,134.64 L103.92,134.76 L104.16,134.88 L104.41,135.00 L104.66,135.12 L104.91,135.24 L105.16,135.36 L105.42,135.47 L105.67,135.59 L105.93,135.70 L106.19,135.82 L106.45,135.93 L106.71,136.04 L106.97,136.15 L107.24,136.27 L107.50,136.38 L107.77,136.49 L108.04,136.59 L108.31,136.70 L108.59,136.81 L108.86,136.92 L109.14,137.02 L109.42,137.13 L109.70,137.23 L109.98,137.33 L110.26,137.44 L110.55,137.54 L110.83,137.64 L111.12,137.74 L111.41,137.84 L111.71,137.94 L112.00,138.04 L112.30,138.14 L112.59,138.23 L112.89,138.33 L113.19,138.43 L113.50,138.52 L113.80,138.61 L114.11,138.71 L114.42,138.80 L114.73,138.89 L115.04,138.98 L115.36,139.07 L115.67,139.16 L115.99,139.25 L116.31,139.34 L116.63,139.43 L116.96,139.52 L117.28,139.60 L117.61,139.69 L117.94,139.77 L118.28,139.86 L118.61,139.94 L118.95,140.03 L119.28,140.11 L119.63,140.19 L119.97,140.27 L120.31,140.35 L120.66,140.43 L121.01,140.51 L121.36,140.59 L121.71,140.67 L122.07,140.74 L122.43,140.82 L122.79,140.89 L123.15,140.97 L123.51,141.04 L123.88,141.12 L124.25,141.19 L124.62,141.26 L124.99,141.34 L125.37,141.41 L125.75,141.48 L126.13,141.55 L126.51,141.62 L126.90,141.69 L127.28,141.75 L127.67,141.82 L128.07,141.89 L128.46,141.96 L128.86,142.02 L129.26,142.09 L129.66,142.15 L130.06,142.22 L130.47,142.28 L130.88,142.34 L131.29,142.40 L131.71,142.47 L132.12,142.53 L132.54,142.59 L132.97,142.65 L133.39,142.71 L133.82,142.76 L134.25,142.82 L134.68,142.88 L135.12,142.94 L135.55,142.99 L135.99,143.05 L136.44,143.10 L136.88,143.16 L137.33,143.21 L137.79,143.27 L138.24,143.32 L138.70,143.37 L139.16,143.42 L139.62,143.47 L140.09,143.53 L140.55,143.58 L141.03,143.63 L141.50,143.67 L141.98,143.72 L142.46,143.77 L142.94,143.82 L143.43,143.87 L143.92,143.91 L144.41,143.96 L144.90,144.00 L145.40,144.05 L145.90,144.09 L146.41,144.14 L146.91,144.18 L147.43,144.22 L147.94,144.26 L148.46,144.31 L148.98,144.35 L149.50,144.39 L150.03,144.43 L150.56,144.47 L151.09,144.51 L151.62,144.54 L152.16,144.58 L152.71,144.62 L153.25,144.66 L153.80,144.69 L154.36,144.73 L154.91,144.77 L155.47,144.80 L156.04,144.84 L156.60,144.87 L157.17,144.90 L157.75,144.94 L158.32,144.97 L158.90,145.00 L159.49,145.03 L160.08,145.06 L160.67,145.09 L161.26,145.12 L161.86,145.15 L162.46,145.18 L163.07,145.21 L163.68,145.24 L164.29,145.27 L164.91,145.30 L165.53,145.32 L166.16,145.35 L166.79,145.38 L167.42,145.40 L168.06,145.43 L168.70,145.45 L169.34,145.47 L169.99,145.50 L170.64,145.52 L171.30,145.54 L171.96,145.57 L172.63,145.59 L173.29,145.61 L173.97,145.63 L174.64,145.65 L175.33,145.67 L176.01,145.69 L176.70,145.71 L177.39,145.73 L178.09,145.75 L178.79,145.76 L179.50,145.78 L180.21,145.80 L180.93,145.81 L181.65,145.83 L182.37,145.85 L183.10,145.86 L183.83,145.88 L184.57,145.89 L185.31,145.90 L186.06,145.92 L186.81,145.93 L187.57,145.94 L188.33,145.95 L189.09,145.97 L189.86,145.98 L190.64,145.99 L191.42,146.00 L192.20,146.01 L192.99,146.02 L193.79,146.03 L194.58,146.03 L195.39,146.04 L196.20,146.05 L197.01,146.06 L197.83,146.06 L198.65,146.07 L199.48,146.08 L200.32,146.08 L201.16,146.09 L202.00,146.09 L202.85,146.09 L203.70,146.10 L204.56,146.10 L205.43,146.10 L206.30,146.11 L207.17,146.11 L208.06,146.11 L208.94,146.11 L209.83,146.11 L210.73,146.11 L211.64,146.11 L212.54,146.11 L213.46,146.11 L214.38,146.11 L215.30,146.11 L216.24,146.10 L217.17,146.10 L218.12,146.10 L219.06,146.10 L220.02,146.09 L220.98,146.09 L221.94,146.08 L222.92,146.08 L223.89,146.07 L224.88,146.06 L225.87,146.06 L226.87,146.05 L227.87,146.04 L228.88,146.04 L229.89,146.03 L230.91,146.02 L231.94,146.01 L232.97,146.00 L234.01,145.99 L235.06,145.98 L236.11,145.97 L237.17,145.96 L238.24,145.94 L239.31,145.93 L240.39,145.92 L241.47,145.91 L242.57,145.89 L243.66,145.88 L244.77,145.86 L245.88,145.85 L247.00,145.83 L248.13,145.82 L249.26,145.80 L250.40,145.79 L251.55,145.77 L252.70,145.75 L253.86,145.73 L255.03,145.71 L256.21,145.70 L257.39,145.68 L258.58,145.66 L259.78,145.64 L260.98,145.62 L262.20,145.59 L263.42,145.57 L264.64,145.55 L265.88,145.53 L267.12,145.51 L268.37,145.48 L269.63,145.46 L270.89,145.44 L272.17,145.41 L273.45,145.39 L274.74,145.36 L276.03,145.33 L277.34,145.31 L278.65,145.28 L279.97,145.25 L281.30,145.23 L282.64,145.20 L283.98,145.17 L285.34,145.14 L286.70,145.11 L288.07,145.08 L289.45,145.05 L290.83,145.02 L292.23,144.99 L293.64,144.96 L295.05,144.92 L296.47,144.89 L297.90,144.86 L299.34,144.82 L300.79,144.79 L302.24,144.76 L303.71,144.72 L305.19,144.69 L306.67,144.65 L308.16,144.61 L309.67,144.58 L311.18,144.54 L312.70,144.50 L314.23,144.46 L315.77,144.43 L317.32,144.39 L318.88,144.35 L320.44,144.31 L322.02,144.27 L323.61,144.23 L325.21,144.19 L326.81,144.14 L328.43,144.10 L330.06,144.06 L331.70,144.02 L333.34,143.97 L335.00,143.93 L336.67,143.88 L338.35,143.84 L340.03,143.79 L341.73,143.75 L343.44,143.70 L345.16,143.66 L346.89,143.61 L348.63,143.56 L350.38,143.51 L352.14,143.46 L353.92,143.42 L355.70,143.37 L357.50,143.32 L359.30,143.27 L361.12,143.22 L362.95,143.17 L364.79,143.11 L366.64,143.06 L368.50,143.01 L370.37,142.96 L372.26,142.90 L374.15,142.85 L376.06,142.80 L377.98,142.74 L379.92,142.69 L381.86,142.63 L383.81,142.58 L385.78,142.52 L387.76,142.47 L389.75,142.41 L391.76,142.35 L393.77,142.29 L395.80,142.24 L397.85,142.18 L399.90,142.12 L401.97,142.06 L404.05,142.00 L406.14,141.94 L408.24,141.88 L410.36,141.82 L412.49,141.76 L414.64,141.70 L416.79,141.64 L418.96,141.58 L421.15,141.51 L423.35,141.45 L425.56,141.39 L427.78,141.33 L430.02,141.26 L432.27,141.20 L434.54,141.13 L436.82,141.07 L439.11,141.01 L441.42,140.94 L443.74,140.87 L446.08,140.81 L448.43,140.74 L450.79,140.68 L453.17,140.61 L455.57,140.55 L457.97,140.48 L460.40,140.41 L462.84,140.34 L465.29,140.28 L467.76,140.21 L470.24,140.14 L472.74,140.07 L475.26,140.01 L477.79,139.94 L480.33,139.87 L482.90,139.80 L485.47,139.73 L488.07,139.66 L490.67,139.59 L493.30,139.53" stroke="#ff0000" stroke-width="2.4" stroke-dasharray="2.2 5.9 9.6 5.9 2.2 5.7" fill="none"/>
<path d="M63.90,189.08 L64.11,189.53 L64.51,189.80 L65.01,190.02 L65.61,190.19 L66.29,190.34 L67.05,190.46 L67.87,190.57 L68.75,190.66 L69.68,190.74 L70.67,190.80 L71.71,190.86 L72.80,190.90 L73.94,190.94 L75.12,190.97 L76.34,190.99 L77.61,191.01 L78.91,191.02 L80.26,191.03 L81.64,191.03 L83.06,191.02 L84.51,191.01 L86.00,191.00 L87.52,190.98 L89.08,190.96 L90.67,190.94 L92.29,190.91 L93.95,190.88 L95.63,190.84 L97.35,190.81 L99.09,190.77 L100.87,190.73 L102.67,190.69 L104.50,190.64 L106.36,190.60 L108.25,190.55 L110.16,190.50 L112.10,190.45 L114.07,190.39 L116.06,190.34 L118.08,190.28 L120.13,190.23 L122.20,190.17 L124.29,190.11 L126.41,190.05 L128.55,189.99 L130.72,189.93 L132.91,189.87 L135.12,189.81 L137.36,189.74 L139.62,189.68 L141.90,189.62 L144.21,189.55 L146.54,189.49 L148.89,189.42 L151.26,189.36 L153.65,189.29 L156.07,189.23 L158.50,189.16 L160.96,189.10 L163.44,189.03 L165.94,188.96 L168.46,188.90 L171.00,188.83 L173.56,188.76 L176.14,188.70 L178.74,188.63 L181.36,188.57 L184.00,188.50 L186.66,188.44 L189.33,188.37 L192.03,188.31 L194.75,188.24 L197.48,188.18 L200.24,188.11 L203.01,188.05 L205.80,187.98 L208.61,187.92 L211.44,187.86 L214.29,187.80 L217.15,187.73 L220.03,187.67 L222.93,187.61 L225.85,187.55 L228.79,187.49 L231.74,187.43 L234.71,187.37 L237.70,187.31 L240.70,187.25 L243.73,187.19 L246.76,187.13 L249.82,187.08 L252.89,187.02 L255.98,186.96 L259.09,186.91 L262.21,186.85 L265.35,186.80 L268.51,186.74 L271.68,186.69 L274.87,186.63 L278.07,186.58 L281.29,186.53 L284.53,186.48 L287.78,186.43 L291.05,186.38 L294.34,186.32 L297.64,186.28 L300.95,186.23 L304.28,186.18 L307.63,186.13 L310.99,186.08 L314.37,186.03 L317.76,185.99 L321.17,185.94 L324.59,185.90 L328.03,185.85 L331.48,185.81 L334.95,185.76 L338.43,185.72 L341.93,185.67 L345.44,185.63 L348.97,185.59 L352.51,185.55 L356.06,185.51 L359.63,185.47 L363.22,185.43 L366.82,185.39 L370.43,185.35 L374.06,185.31 L377.70,185.27 L381.35,185.23 L385.02,185.19 L388.71,185.15 L392.41,185.12 L396.12,185.08 L399.84,185.05 L403.58,185.01 L407.34,184.97 L411.10,184.94 L414.88,184.90 L418.68,184.87 L422.49,184.84 L426.31,184.80 L430.14,184.77 L433.99,184.73 L437.85,184.70 L441.73,184.67 L445.62,184.64 L449.52,184.60 L453.43,184.57 L457.36,184.54 L461.30,184.51 L465.26,184.48 L469.23,184.45 L473.21,184.42 L477.20,184.39 L481.20,184.35 L485.22,184.32 L489.26,184.29 L493.30,184.26" stroke="#ff0000" stroke-width="2.4" stroke-dasharray="2.2 5.9 9.6 5.9 2.2 5.7" fill="none"/>
<rect x="63.9" y="16.2" width="433.20" height="259.80" fill="none" stroke="#000" stroke-width="1.6"/>
<path d="M107.22,276.0 v-8.9 M107.22,16.2 v8.9 M150.54,276.0 v-17.8 M150.54,16.2 v17.8 M193.86,276.0 v-8.9 M193.86,16.2 v8.9 M237.18,276.0 v-17.8 M237.18,16.2 v17.8 M280.50,276.0 v-8.9 M280.50,16.2 v8.9 M323.82,276.0 v-17.8 M323.82,16.2 v17.8 M367.14,276.0 v-8.9 M367.14,16.2 v8.9 M410.46,276.0 v-17.8 M410.46,16.2 v17.8 M453.78,276.0 v-8.9 M453.78,16.2 v8.9 M63.9,211.05 h8.9 M497.1,211.05 h-8.9 M63.9,146.10 h17.8 M497.1,146.10 h-17.8 M63.9,81.15 h8.9 M497.1,81.15 h-8.9" stroke="#000" stroke-width="1.6" fill="none"/>
<text x="63.90" y="297.5" text-anchor="middle" class="tk">0</text>
<text x="150.54" y="299.6" text-anchor="middle" class="tk">0.2</text>
<text x="237.18" y="299.6" text-anchor="middle" class="tk">0.4</text>
<text x="323.82" y="299.6" text-anchor="middle" class="tk">0.6</text>
<text x="410.46" y="299.6" text-anchor="middle" class="tk">0.8</text>
<text x="497.10" y="297.5" text-anchor="middle" class="tk">1</text>
<text x="55.90" y="282.70" text-anchor="end" class="tk">0</text>
<text x="55.90" y="152.80" text-anchor="end" class="tk">1</text>
<text x="55.90" y="22.90" text-anchor="end" class="tk">2</text>
<path d="M591.50,16.20 L591.54,16.83 L591.59,17.69 L591.64,18.53 L591.69,19.37 L591.74,20.19 L591.79,21.01 L591.84,21.82 L591.89,22.61 L591.94,23.40 L591.99,24.18 L592.04,24.95 L592.09,25.71 L592.14,26.47 L592.19,27.21 L592.25,27.95 L592.30,28.68 L592.35,29.40 L592.41,30.11 L592.46,30.82 L592.51,31.52 L592.57,32.21 L592.62,32.89 L592.68,33.56 L592.73,34.23 L592.79,34.90 L592.85,35.55 L592.90,36.20 L592.96,36.84 L593.02,37.47 L593.08,38.10 L593.13,38.72 L593.19,39.34 L593.25,39.95 L593.31,40.55 L593.37,41.15 L593.43,41.74 L593.49,42.33 L593.55,42.91 L593.61,43.49 L593.67,44.05 L593.73,44.62 L593.79,45.18 L593.86,45.73 L593.92,46.28 L593.98,46.82 L594.05,47.36 L594.11,47.89 L594.17,48.42 L594.24,48.94 L594.30,49.46 L594.37,49.98 L594.44,50.49 L594.50,50.99 L594.57,51.49 L594.64,51.99 L594.70,52.48 L594.77,52.97 L594.84,53.45 L594.91,53.93 L594.98,54.41 L595.05,54.88 L595.12,55.35 L595.19,55.81 L595.26,56.27 L595.33,56.73 L595.40,57.18 L595.48,57.63 L595.55,58.07 L595.62,58.52 L595.69,58.95 L595.77,59.39 L595.84,59.82 L595.92,60.25 L595.99,60.67 L596.07,61.10 L596.15,61.52 L596.22,61.93 L596.30,62.34 L596.38,62.75 L596.46,63.16 L596.53,63.56 L596.61,63.96 L596.69,64.36 L596.77,64.76 L596.85,65.15 L596.94,65.54 L597.02,65.92 L597.10,66.31 L597.18,66.69 L597.27,67.07 L597.35,67.45 L597.43,67.82 L597.52,68.19 L597.60,68.56 L597.69,68.93 L597.78,69.29 L597.86,69.65 L597.95,70.01 L598.04,70.37 L598.13,70.72 L598.22,71.08 L598.31,71.43 L598.40,71.78 L598.49,72.12 L598.58,72.47 L598.67,72.81 L598.76,73.15 L598.85,73.49 L598.95,73.82 L599.04,74.16 L599.14,74.49 L599.23,74.82 L599.33,75.15 L599.42,75.48 L599.52,75.80 L599.62,76.12 L599.72,76.45 L599.82,76.77 L599.92,77.08 L600.02,77.40 L600.12,77.72 L600.22,78.03 L600.32,78.34 L600.42,78.65 L600.52,78.96 L600.63,79.26 L600.73,79.57 L600.84,79.87 L600.94,80.18 L601.05,80.48 L601.16,80.78 L601.26,81.07 L601.37,81.37 L601.48,81.66 L601.59,81.96 L601.70,82.25 L601.81,82.54 L601.92,82.83 L602.04,83.12 L602.15,83.41 L602.26,83.69 L602.38,83.98 L602.49,84.26 L602.61,84.54 L602.73,84.82 L602.84,85.10 L602.96,85.38 L603.08,85.66 L603.20,85.93 L603.32,86.21 L603.44,86.48 L603.56,86.75 L603.69,87.02 L603.81,87.29 L603.93,87.56 L604.06,87.83 L604.18,88.10 L604.31,88.36 L604.44,88.63 L604.56,88.89 L604.69,89.16 L604.82,89.42 L604.95,89.68 L605.08,89.94 L605.21,90.20 L605.35,90.46 L605.48,90.71 L605.62,90.97 L605.75,91.22 L605.89,91.48 L606.02,91.73 L606.16,91.98 L606.30,92.24 L606.44,92.49 L606.58,92.74 L606.72,92.99 L606.86,93.23 L607.00,93.48 L607.15,93.73 L607.29,93.97 L607.44,94.22 L607.58,94.46 L607.73,94.70 L607.88,94.95 L608.03,95.19 L608.18,95.43 L608.33,95.67 L608.48,95.91 L608.63,96.14 L608.79,96.38 L608.94,96.62 L609.10,96.85 L609.25,97.09 L609.41,97.32 L609.57,97.56 L609.73,97.79 L609.89,98.02 L610.05,98.25 L610.21,98.49 L610.38,98.72 L610.54,98.94 L610.71,99.17 L610.87,99.40 L611.04,99.63 L611.21,99.85 L611.38,100.08 L611.55,100.31 L611.72,100.53 L611.89,100.75 L612.07,100.98 L612.24,101.20 L612.42,101.42 L612.59,101.64 L612.77,101.86 L612.95,102.08 L613.13,102.30 L613.31,102.52 L613.49,102.74 L613.68,102.96 L613.86,103.17 L614.05,103.39 L614.24,103.60 L614.42,103.82 L614.61,104.03 L614.80,104.25 L614.99,104.46 L615.19,104.67 L615.38,104.88 L615.58,105.09 L615.77,105.30 L615.97,105.51 L616.17,105.72 L616.37,105.93 L616.57,106.14 L616.77,106.34 L616.98,106.55 L617.18,106.76 L617.39,106.96 L617.60,107.17 L617.80,107.37 L618.01,107.58 L618.23,107.78 L618.44,107.98 L618.65,108.18 L618.87,108.38 L619.08,108.58 L619.30,108.78 L619.52,108.98 L619.74,109.18 L619.96,109.38 L620.19,109.58 L620.41,109.78 L620.64,109.97 L620.87,110.17 L621.09,110.36 L621.32,110.56 L621.56,110.75 L621.79,110.95 L622.02,111.14 L622.26,111.33 L622.50,111.52 L622.74,111.71 L622.98,111.91 L623.22,112.10 L623.46,112.28 L623.71,112.47 L623.95,112.66 L624.20,112.85 L624.45,113.04 L624.70,113.22 L624.95,113.41 L625.21,113.60 L625.46,113.78 L625.72,113.96 L625.98,114.15 L626.24,114.33 L626.50,114.51 L626.76,114.70 L627.03,114.88 L627.30,115.06 L627.56,115.24 L627.83,115.42 L628.11,115.60 L628.38,115.78 L628.66,115.95 L628.93,116.13 L629.21,116.31 L629.49,116.48 L629.77,116.66 L630.06,116.84 L630.34,117.01 L630.63,117.18 L630.92,117.36 L631.21,117.53 L631.50,117.70 L631.80,117.87 L632.09,118.05 L632.39,118.22 L632.69,118.39 L632.99,118.56 L633.29,118.72 L633.60,118.89 L633.91,119.06 L634.22,119.23 L634.53,119.39 L634.84,119.56 L635.15,119.73 L635.47,119.89 L635.79,120.05 L636.11,120.22 L636.43,120.38 L636.76,120.54 L637.08,120.71 L637.41,120.87 L637.74,121.03 L638.08,121.19 L638.41,121.35 L638.75,121.51 L639.09,121.66 L639.43,121.82 L639.77,121.98 L640.12,122.14 L640.46,122.29 L640.81,122.45 L641.16,122.60 L641.52,122.76 L641.87,122.91 L642.23,123.06 L642.59,123.22 L642.95,123.37 L643.32,123.52 L643.69,123.67 L644.05,123.82 L644.43,123.97 L644.80,124.12 L645.18,124.27 L645.55,124.42 L645.93,124.57 L646.32,124.71 L646.70,124.86 L647.09,125.00 L647.48,125.15 L647.87,125.29 L648.27,125.44 L648.67,125.58 L649.07,125.72 L649.47,125.87 L649.87,126.01 L650.28,126.15 L650.69,126.29 L651.10,126.43 L651.52,126.57 L651.93,126.71 L652.35,126.85 L652.78,126.98 L653.20,127.12 L653.63,127.26 L654.06,127.39 L654.49,127.53 L654.93,127.66 L655.37,127.80 L655.81,127.93 L656.25,128.06 L656.70,128.20 L657.15,128.33 L657.60,128.46 L658.05,128.59 L658.51,128.72 L658.97,128.85 L659.44,128.98 L659.90,129.11 L660.37,129.24 L660.84,129.36 L661.32,129.49 L661.79,129.62 L662.28,129.74 L662.76,129.87 L663.25,129.99 L663.73,130.11 L664.23,130.24 L664.72,130.36 L665.22,130.48 L665.72,130.60 L666.23,130.73 L666.74,130.85 L667.25,130.97 L667.76,131.08 L668.28,131.20 L668.80,131.32 L669.32,131.44 L669.85,131.56 L670.38,131.67 L670.91,131.79 L671.45,131.90 L671.99,132.02 L672.53,132.13 L673.08,132.25 L673.63,132.36 L674.18,132.47 L674.74,132.59 L675.30,132.70 L675.86,132.81 L676.43,132.92 L677.00,133.03 L677.57,133.14 L678.15,133.25 L678.73,133.35 L679.32,133.46 L679.91,133.57 L680.50,133.68 L681.09,133.78 L681.69,133.89 L682.30,133.99 L682.90,134.10 L683.51,134.20 L684.13,134.30 L684.75,134.41 L685.37,134.51 L685.99,134.61 L686.62,134.71 L687.26,134.81 L687.89,134.91 L688.53,135.01 L689.18,135.11 L689.83,135.21 L690.48,135.31 L691.14,135.41 L691.80,135.50 L692.46,135.60 L693.13,135.69 L693.81,135.79 L694.48,135.89 L695.17,135.98 L695.85,136.07 L696.54,136.17 L697.24,136.26 L697.93,136.35 L698.64,136.44 L699.34,136.53 L700.06,136.63 L700.77,136.72 L701.49,136.81 L702.22,136.89 L702.95,136.98 L703.68,137.07 L704.42,137.16 L705.16,137.25 L705.91,137.33 L706.66,137.42 L707.42,137.50 L708.18,137.59 L708.94,137.67 L709.71,137.76 L710.49,137.84 L711.27,137.93 L712.05,138.01 L712.84,138.09 L713.64,138.17 L714.44,138.25 L715.24,138.33 L716.05,138.41 L716.86,138.49 L717.68,138.57 L718.51,138.65 L719.34,138.73 L720.17,138.81 L721.01,138.89 L721.86,138.96 L722.71,139.04 L723.56,139.11 L724.42,139.19 L725.29,139.27 L726.16,139.34 L727.03,139.41 L727.92,139.49 L728.80,139.56 L729.70,139.63 L730.59,139.71 L731.50,139.78 L732.41,139.85 L733.32,139.92 L734.24,139.99 L735.17,140.06 L736.10,140.13 L737.04,140.20 L737.98,140.27 L738.93,140.33 L739.89,140.40 L740.85,140.47 L741.81,140.54 L742.79,140.60 L743.76,140.67 L744.75,140.73 L745.74,140.80 L746.74,140.86 L747.74,140.93 L748.75,140.99 L749.76,141.05 L750.79,141.12 L751.81,141.18 L752.85,141.24 L753.89,141.30 L754.93,141.36 L755.99,141.42 L757.05,141.48 L758.11,141.54 L759.19,141.60 L760.27,141.66 L761.35,141.72 L762.45,141.78 L763.55,141.84 L764.65,141.89 L765.76,141.95 L766.88,142.01 L768.01,142.06 L769.15,142.12 L770.29,142.17 L771.43,142.23 L772.59,142.28 L773.75,142.34 L774.92,142.39 L776.10,142.44 L777.28,142.50 L778.47,142.55 L779.67,142.60 L780.87,142.65 L782.09,142.70 L783.31,142.75 L784.53,142.81 L785.77,142.86 L787.01,142.90 L788.26,142.95 L789.52,143.00 L790.79,143.05 L792.06,143.10 L793.34,143.15 L794.63,143.19 L795.93,143.24 L797.24,143.29 L798.55,143.33 L799.87,143.38 L801.20,143.43 L802.54,143.47 L803.89,143.52 L805.24,143.56 L806.60,143.60 L807.97,143.65 L809.35,143.69 L810.74,143.73 L812.14,143.78 L813.54,143.82 L814.96,143.86 L816.38,143.90 L817.81,143.94 L819.25,143.98 L820.70,144.02 L822.16,144.06 L823.62,144.10 L825.10,144.14 L826.58,144.18 L828.08,144.22 L829.58,144.26 L831.09,144.30 L832.62,144.33 L834.15,144.37 L835.69,144.41 L837.24,144.44 L838.80,144.48 L840.37,144.51 L841.94,144.55 L843.53,144.59 L845.13,144.62 L846.74,144.65 L848.36,144.69 L849.99,144.72 L851.62,144.76 L853.27,144.79 L854.93,144.82 L856.60,144.85 L858.28,144.89 L859.97,144.92 L861.66,144.95 L863.37,144.98 L865.09,145.01 L866.83,145.04 L868.57,145.07 L870.32,145.10 L872.08,145.13 L873.86,145.16 L875.64,145.19 L877.44,145.22 L879.24,145.24 L881.06,145.27 L882.89,145.30 L884.73,145.33 L886.58,145.35 L888.44,145.38 L890.32,145.41 L892.20,145.43 L894.10,145.46 L896.01,145.48 L897.93,145.51 L899.87,145.53 L901.81,145.56 L903.77,145.58 L905.74,145.60 L907.72,145.63 L909.71,145.65 L911.71,145.67 L913.73,145.70 L915.76,145.72 L917.80,145.74 L919.86,145.76 L921.93,145.78 L924.01,145.80 L926.10,145.83 L928.21,145.85 L930.32,145.87 L932.46,145.89 L934.60,145.91 L936.76,145.92 L938.93,145.94 L941.12,145.96 L943.32,145.98 L945.53,146.00 L947.75,146.02 L949.99,146.03 L952.24,146.05 L954.51,146.07 L956.79,146.08 L959.09,146.10 L961.40,146.12 L963.72,146.13 L966.06,146.15 L968.41,146.16 L970.77,146.18 L973.15,146.19 L975.55,146.21 L977.96,146.22 L980.38,146.23 L982.82,146.25 L985.28,146.26 L987.75,146.27 L990.23,146.29 L992.74,146.30 L995.25,146.31 L997.78,146.32 L1000.33,146.33 L1002.89,146.34 L1005.47,146.35 L1008.06,146.37 L1010.67,146.38 L1013.30,146.39" stroke="#000" stroke-width="2.4" fill="none"/>
<path d="M583.65,210.31 L583.86,210.49 L584.26,210.57 L584.76,210.61 L585.36,210.62 L586.05,210.61 L586.80,210.59 L587.62,210.55 L588.50,210.50 L589.44,210.43 L590.43,210.36 L591.47,210.27 L592.56,210.18 L593.69,210.07 L594.88,209.96 L596.10,209.84 L597.37,209.72 L598.67,209.58 L600.02,209.44 L601.40,209.30 L602.82,209.15 L604.27,208.99 L605.76,208.83 L607.29,208.67 L608.85,208.49 L610.44,208.32 L612.06,208.14 L613.72,207.95 L615.40,207.77 L617.12,207.57 L618.86,207.38 L620.64,207.18 L622.44,206.98 L624.27,206.77 L626.14,206.56 L628.02,206.35 L629.94,206.14 L631.88,205.92 L633.85,205.70 L635.84,205.47 L637.86,205.25 L639.91,205.02 L641.98,204.79 L644.08,204.56 L646.20,204.32 L648.34,204.09 L650.51,203.85 L652.70,203.61 L654.92,203.37 L657.15,203.13 L659.42,202.88 L661.70,202.63 L664.01,202.39 L666.34,202.14 L668.69,201.89 L671.06,201.64 L673.46,201.38 L675.87,201.13 L678.31,200.87 L680.77,200.62 L683.25,200.36 L685.75,200.10 L688.27,199.85 L690.81,199.59 L693.37,199.33 L695.95,199.07 L698.55,198.81 L701.18,198.55 L703.82,198.29 L706.48,198.02 L709.16,197.76 L711.86,197.50 L714.57,197.24 L717.31,196.97 L720.07,196.71 L722.84,196.45 L725.63,196.19 L728.45,195.92 L731.28,195.66 L734.12,195.40 L736.99,195.14 L739.87,194.87 L742.78,194.61 L745.70,194.35 L748.63,194.09 L751.59,193.83 L754.56,193.57 L757.55,193.31 L760.56,193.05 L763.58,192.80 L766.62,192.54 L769.68,192.28 L772.75,192.02 L775.85,191.77 L778.95,191.52 L782.08,191.26 L785.22,191.01 L788.38,190.76 L791.55,190.51 L794.74,190.26 L797.95,190.01 L801.17,189.76 L804.41,189.52 L807.66,189.27 L810.93,189.03 L814.22,188.78 L817.52,188.54 L820.84,188.30 L824.17,188.06 L827.52,187.83 L830.88,187.59 L834.26,187.36 L837.66,187.12 L841.07,186.89 L844.49,186.66 L847.93,186.43 L851.39,186.21 L854.86,185.98 L858.34,185.76 L861.84,185.54 L865.35,185.32 L868.88,185.10 L872.42,184.89 L875.98,184.67 L879.55,184.46 L883.14,184.25 L886.74,184.04 L890.36,183.84 L893.99,183.63 L897.63,183.43 L901.29,183.23 L904.96,183.04 L908.65,182.84 L912.35,182.65 L916.06,182.46 L919.79,182.27 L923.53,182.08 L927.29,181.90 L931.06,181.72 L934.84,181.54 L938.64,181.36 L942.45,181.19 L946.27,181.02 L950.11,180.85 L953.96,180.68 L957.82,180.52 L961.70,180.36 L965.59,180.20 L969.49,180.04 L973.41,179.89 L977.34,179.74 L981.28,179.59 L985.24,179.45 L989.21,179.31 L993.19,179.17 L997.19,179.03 L1001.20,178.90 L1005.22,178.77 L1009.25,178.64 L1013.30,178.52" stroke="#000" stroke-width="2.4" fill="none"/>
<path d="M588.45,16.20 L588.48,16.86 L588.51,17.55 L588.54,18.23 L588.57,18.91 L588.60,19.58 L588.63,20.25 L588.66,20.91 L588.69,21.57 L588.72,22.22 L588.76,22.87 L588.79,23.51 L588.82,24.15 L588.85,24.79 L588.88,25.42 L588.91,26.04 L588.95,26.67 L588.98,27.28 L589.01,27.90 L589.04,28.51 L589.08,29.11 L589.11,29.71 L589.15,30.31 L589.18,30.90 L589.21,31.49 L589.25,32.08 L589.28,32.66 L589.32,33.24 L589.35,33.81 L589.39,34.38 L589.42,34.95 L589.46,35.51 L589.49,36.07 L589.53,36.63 L589.56,37.18 L589.60,37.73 L589.64,38.27 L589.67,38.81 L589.71,39.35 L589.75,39.89 L589.79,40.42 L589.82,40.94 L589.86,41.47 L589.90,41.99 L589.94,42.51 L589.98,43.02 L590.02,43.53 L590.06,44.04 L590.09,44.55 L590.13,45.05 L590.17,45.55 L590.21,46.04 L590.25,46.54 L590.30,47.03 L590.34,47.51 L590.38,48.00 L590.42,48.48 L590.46,48.96 L590.50,49.43 L590.54,49.90 L590.59,50.37 L590.63,50.84 L590.67,51.30 L590.72,51.77 L590.76,52.22 L590.80,52.68 L590.85,53.13 L590.89,53.58 L590.94,54.03 L590.98,54.48 L591.03,54.92 L591.07,55.36 L591.12,55.80 L591.16,56.23 L591.21,56.67 L591.25,57.10 L591.30,57.52 L591.35,57.95 L591.40,58.37 L591.44,58.79 L591.49,59.21 L591.54,59.63 L591.59,60.04 L591.64,60.45 L591.69,60.86 L591.74,61.27 L591.79,61.68 L591.84,62.08 L591.89,62.48 L591.94,62.88 L591.99,63.27 L592.04,63.67 L592.09,64.06 L592.14,64.45 L592.19,64.84 L592.25,65.22 L592.30,65.61 L592.35,65.99 L592.41,66.37 L592.46,66.74 L592.51,67.12 L592.57,67.49 L592.62,67.86 L592.68,68.23 L592.73,68.60 L592.79,68.97 L592.85,69.33 L592.90,69.69 L592.96,70.05 L593.02,70.41 L593.08,70.77 L593.13,71.12 L593.19,71.48 L593.25,71.83 L593.31,72.18 L593.37,72.53 L593.43,72.87 L593.49,73.22 L593.55,73.56 L593.61,73.90 L593.67,74.24 L593.73,74.58 L593.79,74.91 L593.86,75.25 L593.92,75.58 L593.98,75.91 L594.05,76.24 L594.11,76.57 L594.17,76.89 L594.24,77.22 L594.30,77.54 L594.37,77.86 L594.44,78.18 L594.50,78.50 L594.57,78.82 L594.64,79.13 L594.70,79.45 L594.77,79.76 L594.84,80.07 L594.91,80.38 L594.98,80.69 L595.05,80.99 L595.12,81.30 L595.19,81.60 L595.26,81.90 L595.33,82.21 L595.40,82.50 L595.48,82.80 L595.55,83.10 L595.62,83.40 L595.69,83.69 L595.77,83.98 L595.84,84.27 L595.92,84.56 L595.99,84.85 L596.07,85.14 L596.15,85.43 L596.22,85.71 L596.30,85.99 L596.38,86.28 L596.46,86.56 L596.53,86.84 L596.61,87.12 L596.69,87.39 L596.77,87.67 L596.85,87.94 L596.94,88.22 L597.02,88.49 L597.10,88.76 L597.18,89.03 L597.27,89.30 L597.35,89.57 L597.43,89.84 L597.52,90.10 L597.60,90.37 L597.69,90.63 L597.78,90.89 L597.86,91.15 L597.95,91.41 L598.04,91.67 L598.13,91.93 L598.22,92.18 L598.31,92.44 L598.40,92.69 L598.49,92.95 L598.58,93.20 L598.67,93.45 L598.76,93.70 L598.85,93.95 L598.95,94.20 L599.04,94.45 L599.14,94.69 L599.23,94.94 L599.33,95.18 L599.42,95.42 L599.52,95.66 L599.62,95.91 L599.72,96.15 L599.82,96.38 L599.92,96.62 L600.02,96.86 L600.12,97.10 L600.22,97.33 L600.32,97.56 L600.42,97.80 L600.52,98.03 L600.63,98.26 L600.73,98.49 L600.84,98.72 L600.94,98.95 L601.05,99.18 L601.16,99.40 L601.26,99.63 L601.37,99.85 L601.48,100.08 L601.59,100.30 L601.70,100.52 L601.81,100.74 L601.92,100.96 L602.04,101.18 L602.15,101.40 L602.26,101.62 L602.38,101.83 L602.49,102.05 L602.61,102.26 L602.73,102.48 L602.84,102.69 L602.96,102.90 L603.08,103.12 L603.20,103.33 L603.32,103.54 L603.44,103.75 L603.56,103.95 L603.69,104.16 L603.81,104.37 L603.93,104.57 L604.06,104.78 L604.18,104.98 L604.31,105.19 L604.44,105.39 L604.56,105.59 L604.69,105.79 L604.82,105.99 L604.95,106.19 L605.08,106.39 L605.21,106.59 L605.35,106.78 L605.48,106.98 L605.62,107.18 L605.75,107.37 L605.89,107.57 L606.02,107.76 L606.16,107.95 L606.30,108.14 L606.44,108.33 L606.58,108.52 L606.72,108.71 L606.86,108.90 L607.00,109.09 L607.15,109.28 L607.29,109.47 L607.44,109.65 L607.58,109.84 L607.73,110.02 L607.88,110.20 L608.03,110.39 L608.18,110.57 L608.33,110.75 L608.48,110.93 L608.63,111.11 L608.79,111.29 L608.94,111.47 L609.10,111.65 L609.25,111.83 L609.41,112.00 L609.57,112.18 L609.73,112.36 L609.89,112.53 L610.05,112.70 L610.21,112.88 L610.38,113.05 L610.54,113.22 L610.71,113.39 L610.87,113.57 L611.04,113.74 L611.21,113.90 L611.38,114.07 L611.55,114.24 L611.72,114.41 L611.89,114.58 L612.07,114.74 L612.24,114.91 L612.42,115.07 L612.59,115.24 L612.77,115.40 L612.95,115.56 L613.13,115.73 L613.31,115.89 L613.49,116.05 L613.68,116.21 L613.86,116.37 L614.05,116.53 L614.24,116.69 L614.42,116.85 L614.61,117.00 L614.80,117.16 L614.99,117.32 L615.19,117.47 L615.38,117.63 L615.58,117.78 L615.77,117.94 L615.97,118.09 L616.17,118.24 L616.37,118.39 L616.57,118.55 L616.77,118.70 L616.98,118.85 L617.18,119.00 L617.39,119.15 L617.60,119.30 L617.80,119.44 L618.01,119.59 L618.23,119.74 L618.44,119.88 L618.65,120.03 L618.87,120.18 L619.08,120.32 L619.30,120.46 L619.52,120.61 L619.74,120.75 L619.96,120.89 L620.19,121.03 L620.41,121.18 L620.64,121.32 L620.87,121.46 L621.09,121.60 L621.32,121.74 L621.56,121.87 L621.79,122.01 L622.02,122.15 L622.26,122.29 L622.50,122.42 L622.74,122.56 L622.98,122.69 L623.22,122.83 L623.46,122.96 L623.71,123.10 L623.95,123.23 L624.20,123.36 L624.45,123.49 L624.70,123.63 L624.95,123.76 L625.21,123.89 L625.46,124.02 L625.72,124.15 L625.98,124.28 L626.24,124.41 L626.50,124.53 L626.76,124.66 L627.03,124.79 L627.30,124.91 L627.56,125.04 L627.83,125.17 L628.11,125.29 L628.38,125.41 L628.66,125.54 L628.93,125.66 L629.21,125.79 L629.49,125.91 L629.77,126.03 L630.06,126.15 L630.34,126.27 L630.63,126.39 L630.92,126.51 L631.21,126.63 L631.50,126.75 L631.80,126.87 L632.09,126.99 L632.39,127.11 L632.69,127.22 L632.99,127.34 L633.29,127.46 L633.60,127.57 L633.91,127.69 L634.22,127.80 L634.53,127.92 L634.84,128.03 L635.15,128.14 L635.47,128.26 L635.79,128.37 L636.11,128.48 L636.43,128.59 L636.76,128.70 L637.08,128.81 L637.41,128.92 L637.74,129.03 L638.08,129.14 L638.41,129.25 L638.75,129.36 L639.09,129.47 L639.43,129.57 L639.77,129.68 L640.12,129.79 L640.46,129.89 L640.81,130.00 L641.16,130.10 L641.52,130.21 L641.87,130.31 L642.23,130.42 L642.59,130.52 L642.95,130.62 L643.32,130.72 L643.69,130.83 L644.05,130.93 L644.43,131.03 L644.80,131.13 L645.18,131.23 L645.55,131.33 L645.93,131.43 L646.32,131.53 L646.70,131.63 L647.09,131.73 L647.48,131.82 L647.87,131.92 L648.27,132.02 L648.67,132.11 L649.07,132.21 L649.47,132.31 L649.87,132.40 L650.28,132.50 L650.69,132.59 L651.10,132.68 L651.52,132.78 L651.93,132.87 L652.35,132.96 L652.78,133.06 L653.20,133.15 L653.63,133.24 L654.06,133.33 L654.49,133.42 L654.93,133.51 L655.37,133.60 L655.81,133.69 L656.25,133.78 L656.70,133.87 L657.15,133.96 L657.60,134.04 L658.05,134.13 L658.51,134.22 L658.97,134.31 L659.44,134.39 L659.90,134.48 L660.37,134.56 L660.84,134.65 L661.32,134.73 L661.79,134.82 L662.28,134.90 L662.76,134.98 L663.25,135.07 L663.73,135.15 L664.23,135.23 L664.72,135.32 L665.22,135.40 L665.72,135.48 L666.23,135.56 L666.74,135.64 L667.25,135.72 L667.76,135.80 L668.28,135.88 L668.80,135.96 L669.32,136.04 L669.85,136.12 L670.38,136.19 L670.91,136.27 L671.45,136.35 L671.99,136.42 L672.53,136.50 L673.08,136.58 L673.63,136.65 L674.18,136.73 L674.74,136.80 L675.30,136.88 L675.86,136.95 L676.43,137.03 L677.00,137.10 L677.57,137.17 L678.15,137.25 L678.73,137.32 L679.32,137.39 L679.91,137.46 L680.50,137.53 L681.09,137.61 L681.69,137.68 L682.30,137.75 L682.90,137.82 L683.51,137.89 L684.13,137.96 L684.75,138.02 L685.37,138.09 L685.99,138.16 L686.62,138.23 L687.26,138.30 L687.89,138.36 L688.53,138.43 L689.18,138.50 L689.83,138.56 L690.48,138.63 L691.14,138.70 L691.80,138.76 L692.46,138.83 L693.13,138.89 L693.81,138.96 L694.48,139.02 L695.17,139.08 L695.85,139.15 L696.54,139.21 L697.24,139.27 L697.93,139.33 L698.64,139.40 L699.34,139.46 L700.06,139.52 L700.77,139.58 L701.49,139.64 L702.22,139.70 L702.95,139.76 L703.68,139.82 L704.42,139.88 L705.16,139.94 L705.91,140.00 L706.66,140.06 L707.42,140.12 L708.18,140.17 L708.94,140.23 L709.71,140.29 L710.49,140.34 L711.27,140.40 L712.05,140.46 L712.84,140.51 L713.64,140.57 L714.44,140.62 L715.24,140.68 L716.05,140.73 L716.86,140.79 L717.68,140.84 L718.51,140.90 L719.34,140.95 L720.17,141.00 L721.01,141.06 L721.86,141.11 L722.71,141.16 L723.56,141.21 L724.42,141.27 L725.29,141.32 L726.16,141.37 L727.03,141.42 L727.92,141.47 L728.80,141.52 L729.70,141.57 L730.59,141.62 L731.50,141.67 L732.41,141.72 L733.32,141.77 L734.24,141.82 L735.17,141.86 L736.10,141.91 L737.04,141.96 L737.98,142.01 L738.93,142.05 L739.89,142.10 L740.85,142.15 L741.81,142.19 L742.79,142.24 L743.76,142.29 L744.75,142.33 L745.74,142.38 L746.74,142.42 L747.74,142.47 L748.75,142.51 L749.76,142.55 L750.79,142.60 L751.81,142.64 L752.85,142.68 L753.89,142.73 L754.93,142.77 L755.99,142.81 L757.05,142.85 L758.11,142.90 L759.19,142.94 L760.27,142.98 L761.35,143.02 L762.45,143.06 L763.55,143.10 L764.65,143.14 L765.76,143.18 L766.88,143.22 L768.01,143.26 L769.15,143.30 L770.29,143.34 L771.43,143.38 L772.59,143.41 L773.75,143.45 L774.92,143.49 L776.10,143.53 L777.28,143.56 L778.47,143.60 L779.67,143.64 L780.87,143.67 L782.09,143.71 L783.31,143.75 L784.53,143.78 L785.77,143.82 L787.01,143.85 L788.26,143.89 L789.52,143.92 L790.79,143.96 L792.06,143.99 L793.34,144.02 L794.63,144.06 L795.93,144.09 L797.24,144.12 L798.55,144.16 L799.87,144.19 L801.20,144.22 L802.54,144.25 L803.89,144.29 L805.24,144.32 L806.60,144.35 L807.97,144.38 L809.35,144.41 L810.74,144.44 L812.14,144.47 L813.54,144.50 L814.96,144.53 L816.38,144.56 L817.81,144.59 L819.25,144.62 L820.70,144.65 L822.16,144.68 L823.62,144.70 L825.10,144.73 L826.58,144.76 L828.08,144.79 L829.58,144.82 L831.09,144.84 L832.62,144.87 L834.15,144.90 L835.69,144.92 L837.24,144.95 L838.80,144.97 L840.37,145.00 L841.94,145.02 L843.53,145.05 L845.13,145.07 L846.74,145.10 L848.36,145.12 L849.99,145.15 L851.62,145.17 L853.27,145.20 L854.93,145.22 L856.60,145.24 L858.28,145.26 L859.97,145.29 L861.66,145.31 L863.37,145.33 L865.09,145.35 L866.83,145.38 L868.57,145.40 L870.32,145.42 L872.08,145.44 L873.86,145.46 L875.64,145.48 L877.44,145.50 L879.24,145.52 L881.06,145.54 L882.89,145.56 L884.73,145.58 L886.58,145.60 L888.44,145.62 L890.32,145.63 L892.20,145.65 L894.10,145.67 L896.01,145.69 L897.93,145.71 L899.87,145.72 L901.81,145.74 L903.77,145.76 L905.74,145.77 L907.72,145.79 L909.71,145.81 L911.71,145.82 L913.73,145.84 L915.76,145.85 L917.80,145.87 L919.86,145.88 L921.93,145.90 L924.01,145.91 L926.10,145.93 L928.21,145.94 L930.32,145.95 L932.46,145.97 L934.60,145.98 L936.76,145.99 L938.93,146.01 L941.12,146.02 L943.32,146.03 L945.53,146.04 L947.75,146.05 L949.99,146.07 L952.24,146.08 L954.51,146.09 L956.79,146.10 L959.09,146.11 L961.40,146.12 L963.72,146.13 L966.06,146.14 L968.41,146.15 L970.77,146.16 L973.15,146.17 L975.55,146.18 L977.96,146.18 L980.38,146.19 L982.82,146.20 L985.28,146.21 L987.75,146.22 L990.23,146.22 L992.74,146.23 L995.25,146.24 L997.78,146.24 L1000.33,146.25 L1002.89,146.26 L1005.47,146.26 L1008.06,146.27 L1010.67,146.27 L1013.30,146.28" stroke="#0000ff" stroke-width="2.4" stroke-dasharray="9.6 6.1" fill="none"/>
<path d="M583.65,210.54 L583.86,210.56 L584.26,210.48 L584.76,210.36 L585.36,210.19 L586.05,210.00 L586.80,209.79 L587.62,209.55 L588.50,209.30 L589.44,209.03 L590.43,208.75 L591.47,208.46 L592.56,208.16 L593.69,207.84 L594.88,207.52 L596.10,207.19 L597.37,206.86 L598.67,206.51 L600.02,206.17 L601.40,205.81 L602.82,205.45 L604.27,205.09 L605.76,204.72 L607.29,204.35 L608.85,203.98 L610.44,203.60 L612.06,203.23 L613.72,202.85 L615.40,202.46 L617.12,202.08 L618.86,201.70 L620.64,201.31 L622.44,200.92 L624.27,200.54 L626.14,200.15 L628.02,199.76 L629.94,199.37 L631.88,198.99 L633.85,198.60 L635.84,198.21 L637.86,197.83 L639.91,197.44 L641.98,197.06 L644.08,196.67 L646.20,196.29 L648.34,195.91 L650.51,195.53 L652.70,195.15 L654.92,194.78 L657.15,194.40 L659.42,194.03 L661.70,193.66 L664.01,193.29 L666.34,192.92 L668.69,192.55 L671.06,192.19 L673.46,191.83 L675.87,191.47 L678.31,191.11 L680.77,190.76 L683.25,190.40 L685.75,190.05 L688.27,189.70 L690.81,189.36 L693.37,189.02 L695.95,188.68 L698.55,188.34 L701.18,188.00 L703.82,187.67 L706.48,187.34 L709.16,187.01 L711.86,186.69 L714.57,186.37 L717.31,186.05 L720.07,185.73 L722.84,185.42 L725.63,185.11 L728.45,184.80 L731.28,184.49 L734.12,184.19 L736.99,183.89 L739.87,183.59 L742.78,183.30 L745.70,183.01 L748.63,182.72 L751.59,182.43 L754.56,182.15 L757.55,181.87 L760.56,181.59 L763.58,181.32 L766.62,181.05 L769.68,180.78 L772.75,180.51 L775.85,180.25 L778.95,179.99 L782.08,179.73 L785.22,179.48 L788.38,179.22 L791.55,178.98 L794.74,178.73 L797.95,178.48 L801.17,178.24 L804.41,178.00 L807.66,177.77 L810.93,177.53 L814.22,177.30 L817.52,177.08 L820.84,176.85 L824.17,176.63 L827.52,176.41 L830.88,176.19 L834.26,175.97 L837.66,175.76 L841.07,175.55 L844.49,175.34 L847.93,175.13 L851.39,174.93 L854.86,174.73 L858.34,174.53 L861.84,174.33 L865.35,174.13 L868.88,173.94 L872.42,173.75 L875.98,173.56 L879.55,173.37 L883.14,173.19 L886.74,173.01 L890.36,172.83 L893.99,172.65 L897.63,172.47 L901.29,172.30 L904.96,172.12 L908.65,171.95 L912.35,171.78 L916.06,171.61 L919.79,171.45 L923.53,171.28 L927.29,171.12 L931.06,170.96 L934.84,170.80 L938.64,170.64 L942.45,170.48 L946.27,170.33 L950.11,170.17 L953.96,170.02 L957.82,169.87 L961.70,169.72 L965.59,169.57 L969.49,169.42 L973.41,169.27 L977.34,169.12 L981.28,168.98 L985.24,168.83 L989.21,168.69 L993.19,168.55 L997.19,168.41 L1001.20,168.27 L1005.22,168.13 L1009.25,167.99 L1013.30,167.85" stroke="#0000ff" stroke-width="2.4" stroke-dasharray="9.6 6.1" fill="none"/>
<path d="M587.24,16.20 L587.25,16.70 L587.27,17.76 L587.29,18.81 L587.32,19.84 L587.34,20.85 L587.36,21.86 L587.38,22.85 L587.41,23.83 L587.43,24.79 L587.45,25.74 L587.48,26.68 L587.50,27.61 L587.52,28.53 L587.55,29.43 L587.57,30.32 L587.60,31.21 L587.62,32.08 L587.65,32.94 L587.67,33.79 L587.69,34.62 L587.72,35.45 L587.74,36.27 L587.77,37.08 L587.79,37.88 L587.82,38.66 L587.85,39.44 L587.87,40.21 L587.90,40.97 L587.92,41.72 L587.95,42.46 L587.98,43.20 L588.00,43.92 L588.03,44.64 L588.06,45.35 L588.08,46.05 L588.11,46.74 L588.14,47.42 L588.17,48.10 L588.19,48.76 L588.22,49.42 L588.25,50.08 L588.28,50.72 L588.31,51.36 L588.34,51.99 L588.36,52.61 L588.39,53.23 L588.42,53.84 L588.45,54.44 L588.48,55.04 L588.51,55.63 L588.54,56.22 L588.57,56.79 L588.60,57.36 L588.63,57.93 L588.66,58.49 L588.69,59.04 L588.72,59.59 L588.76,60.13 L588.79,60.67 L588.82,61.20 L588.85,61.72 L588.88,62.24 L588.91,62.76 L588.95,63.27 L588.98,63.77 L589.01,64.27 L589.04,64.76 L589.08,65.25 L589.11,65.73 L589.15,66.21 L589.18,66.69 L589.21,67.16 L589.25,67.62 L589.28,68.08 L589.32,68.54 L589.35,68.99 L589.39,69.44 L589.42,69.88 L589.46,70.32 L589.49,70.76 L589.53,71.19 L589.56,71.61 L589.60,72.04 L589.64,72.46 L589.67,72.87 L589.71,73.28 L589.75,73.69 L589.79,74.09 L589.82,74.49 L589.86,74.89 L589.90,75.28 L589.94,75.67 L589.98,76.06 L590.02,76.44 L590.06,76.82 L590.09,77.20 L590.13,77.57 L590.17,77.94 L590.21,78.31 L590.25,78.67 L590.30,79.03 L590.34,79.39 L590.38,79.74 L590.42,80.09 L590.46,80.44 L590.50,80.79 L590.54,81.13 L590.59,81.47 L590.63,81.81 L590.67,82.14 L590.72,82.47 L590.76,82.80 L590.80,83.13 L590.85,83.45 L590.89,83.77 L590.94,84.09 L590.98,84.41 L591.03,84.72 L591.07,85.03 L591.12,85.34 L591.16,85.65 L591.21,85.96 L591.25,86.26 L591.30,86.56 L591.35,86.86 L591.40,87.15 L591.44,87.45 L591.49,87.74 L591.54,88.03 L591.59,88.31 L591.64,88.60 L591.69,88.88 L591.74,89.16 L591.79,89.44 L591.84,89.72 L591.89,90.00 L591.94,90.27 L591.99,90.54 L592.04,90.81 L592.09,91.08 L592.14,91.34 L592.19,91.61 L592.25,91.87 L592.30,92.13 L592.35,92.39 L592.41,92.65 L592.46,92.90 L592.51,93.16 L592.57,93.41 L592.62,93.66 L592.68,93.91 L592.73,94.16 L592.79,94.41 L592.85,94.65 L592.90,94.89 L592.96,95.14 L593.02,95.38 L593.08,95.61 L593.13,95.85 L593.19,96.09 L593.25,96.32 L593.31,96.56 L593.37,96.79 L593.43,97.02 L593.49,97.25 L593.55,97.47 L593.61,97.70 L593.67,97.93 L593.73,98.15 L593.79,98.37 L593.86,98.59 L593.92,98.81 L593.98,99.03 L594.05,99.25 L594.11,99.47 L594.17,99.68 L594.24,99.90 L594.30,100.11 L594.37,100.32 L594.44,100.53 L594.50,100.74 L594.57,100.95 L594.64,101.16 L594.70,101.37 L594.77,101.57 L594.84,101.78 L594.91,101.98 L594.98,102.18 L595.05,102.38 L595.12,102.58 L595.19,102.78 L595.26,102.98 L595.33,103.18 L595.40,103.37 L595.48,103.57 L595.55,103.76 L595.62,103.96 L595.69,104.15 L595.77,104.34 L595.84,104.53 L595.92,104.72 L595.99,104.91 L596.07,105.10 L596.15,105.29 L596.22,105.47 L596.30,105.66 L596.38,105.84 L596.46,106.03 L596.53,106.21 L596.61,106.39 L596.69,106.57 L596.77,106.75 L596.85,106.93 L596.94,107.11 L597.02,107.29 L597.10,107.47 L597.18,107.64 L597.27,107.82 L597.35,108.00 L597.43,108.17 L597.52,108.34 L597.60,108.52 L597.69,108.69 L597.78,108.86 L597.86,109.03 L597.95,109.20 L598.04,109.37 L598.13,109.54 L598.22,109.71 L598.31,109.87 L598.40,110.04 L598.49,110.21 L598.58,110.37 L598.67,110.54 L598.76,110.70 L598.85,110.86 L598.95,111.03 L599.04,111.19 L599.14,111.35 L599.23,111.51 L599.33,111.67 L599.42,111.83 L599.52,111.99 L599.62,112.15 L599.72,112.31 L599.82,112.46 L599.92,112.62 L600.02,112.78 L600.12,112.93 L600.22,113.09 L600.32,113.24 L600.42,113.39 L600.52,113.55 L600.63,113.70 L600.73,113.85 L600.84,114.00 L600.94,114.15 L601.05,114.30 L601.16,114.45 L601.26,114.60 L601.37,114.75 L601.48,114.90 L601.59,115.05 L601.70,115.19 L601.81,115.34 L601.92,115.49 L602.04,115.63 L602.15,115.78 L602.26,115.92 L602.38,116.06 L602.49,116.21 L602.61,116.35 L602.73,116.49 L602.84,116.64 L602.96,116.78 L603.08,116.92 L603.20,117.06 L603.32,117.20 L603.44,117.34 L603.56,117.48 L603.69,117.61 L603.81,117.75 L603.93,117.89 L604.06,118.03 L604.18,118.16 L604.31,118.30 L604.44,118.43 L604.56,118.57 L604.69,118.70 L604.82,118.84 L604.95,118.97 L605.08,119.11 L605.21,119.24 L605.35,119.37 L605.48,119.50 L605.62,119.63 L605.75,119.76 L605.89,119.90 L606.02,120.03 L606.16,120.15 L606.30,120.28 L606.44,120.41 L606.58,120.54 L606.72,120.67 L606.86,120.80 L607.00,120.92 L607.15,121.05 L607.29,121.18 L607.44,121.30 L607.58,121.43 L607.73,121.55 L607.88,121.68 L608.03,121.80 L608.18,121.92 L608.33,122.05 L608.48,122.17 L608.63,122.29 L608.79,122.41 L608.94,122.53 L609.10,122.66 L609.25,122.78 L609.41,122.90 L609.57,123.02 L609.73,123.14 L609.89,123.25 L610.05,123.37 L610.21,123.49 L610.38,123.61 L610.54,123.73 L610.71,123.84 L610.87,123.96 L611.04,124.08 L611.21,124.19 L611.38,124.31 L611.55,124.42 L611.72,124.54 L611.89,124.65 L612.07,124.76 L612.24,124.88 L612.42,124.99 L612.59,125.10 L612.77,125.21 L612.95,125.33 L613.13,125.44 L613.31,125.55 L613.49,125.66 L613.68,125.77 L613.86,125.88 L614.05,125.99 L614.24,126.10 L614.42,126.21 L614.61,126.31 L614.80,126.42 L614.99,126.53 L615.19,126.64 L615.38,126.74 L615.58,126.85 L615.77,126.95 L615.97,127.06 L616.17,127.17 L616.37,127.27 L616.57,127.37 L616.77,127.48 L616.98,127.58 L617.18,127.69 L617.39,127.79 L617.60,127.89 L617.80,127.99 L618.01,128.09 L618.23,128.20 L618.44,128.30 L618.65,128.40 L618.87,128.50 L619.08,128.60 L619.30,128.70 L619.52,128.80 L619.74,128.89 L619.96,128.99 L620.19,129.09 L620.41,129.19 L620.64,129.29 L620.87,129.38 L621.09,129.48 L621.32,129.57 L621.56,129.67 L621.79,129.77 L622.02,129.86 L622.26,129.96 L622.50,130.05 L622.74,130.14 L622.98,130.24 L623.22,130.33 L623.46,130.42 L623.71,130.52 L623.95,130.61 L624.20,130.70 L624.45,130.79 L624.70,130.88 L624.95,130.97 L625.21,131.06 L625.46,131.15 L625.72,131.24 L625.98,131.33 L626.24,131.42 L626.50,131.51 L626.76,131.60 L627.03,131.69 L627.30,131.77 L627.56,131.86 L627.83,131.95 L628.11,132.03 L628.38,132.12 L628.66,132.21 L628.93,132.29 L629.21,132.38 L629.49,132.46 L629.77,132.55 L630.06,132.63 L630.34,132.71 L630.63,132.80 L630.92,132.88 L631.21,132.96 L631.50,133.04 L631.80,133.13 L632.09,133.21 L632.39,133.29 L632.69,133.37 L632.99,133.45 L633.29,133.53 L633.60,133.61 L633.91,133.69 L634.22,133.77 L634.53,133.85 L634.84,133.93 L635.15,134.00 L635.47,134.08 L635.79,134.16 L636.11,134.24 L636.43,134.31 L636.76,134.39 L637.08,134.47 L637.41,134.54 L637.74,134.62 L638.08,134.69 L638.41,134.77 L638.75,134.84 L639.09,134.92 L639.43,134.99 L639.77,135.06 L640.12,135.14 L640.46,135.21 L640.81,135.28 L641.16,135.35 L641.52,135.43 L641.87,135.50 L642.23,135.57 L642.59,135.64 L642.95,135.71 L643.32,135.78 L643.69,135.85 L644.05,135.92 L644.43,135.99 L644.80,136.06 L645.18,136.13 L645.55,136.19 L645.93,136.26 L646.32,136.33 L646.70,136.40 L647.09,136.46 L647.48,136.53 L647.87,136.60 L648.27,136.66 L648.67,136.73 L649.07,136.79 L649.47,136.86 L649.87,136.92 L650.28,136.99 L650.69,137.05 L651.10,137.12 L651.52,137.18 L651.93,137.24 L652.35,137.31 L652.78,137.37 L653.20,137.43 L653.63,137.49 L654.06,137.56 L654.49,137.62 L654.93,137.68 L655.37,137.74 L655.81,137.80 L656.25,137.86 L656.70,137.92 L657.15,137.98 L657.60,138.04 L658.05,138.10 L658.51,138.16 L658.97,138.21 L659.44,138.27 L659.90,138.33 L660.37,138.39 L660.84,138.45 L661.32,138.50 L661.79,138.56 L662.28,138.62 L662.76,138.67 L663.25,138.73 L663.73,138.78 L664.23,138.84 L664.72,138.89 L665.22,138.95 L665.72,139.00 L666.23,139.06 L666.74,139.11 L667.25,139.16 L667.76,139.22 L668.28,139.27 L668.80,139.32 L669.32,139.37 L669.85,139.43 L670.38,139.48 L670.91,139.53 L671.45,139.58 L671.99,139.63 L672.53,139.68 L673.08,139.73 L673.63,139.78 L674.18,139.83 L674.74,139.88 L675.30,139.93 L675.86,139.98 L676.43,140.03 L677.00,140.08 L677.57,140.13 L678.15,140.17 L678.73,140.22 L679.32,140.27 L679.91,140.32 L680.50,140.36 L681.09,140.41 L681.69,140.46 L682.30,140.50 L682.90,140.55 L683.51,140.60 L684.13,140.64 L684.75,140.69 L685.37,140.73 L685.99,140.78 L686.62,140.82 L687.26,140.86 L687.89,140.91 L688.53,140.95 L689.18,140.99 L689.83,141.04 L690.48,141.08 L691.14,141.12 L691.80,141.17 L692.46,141.21 L693.13,141.25 L693.81,141.29 L694.48,141.33 L695.17,141.37 L695.85,141.41 L696.54,141.46 L697.24,141.50 L697.93,141.54 L698.64,141.58 L699.34,141.62 L700.06,141.65 L700.77,141.69 L701.49,141.73 L702.22,141.77 L702.95,141.81 L703.68,141.85 L704.42,141.89 L705.16,141.92 L705.91,141.96 L706.66,142.00 L707.42,142.04 L708.18,142.07 L708.94,142.11 L709.71,142.15 L710.49,142.18 L711.27,142.22 L712.05,142.25 L712.84,142.29 L713.64,142.33 L714.44,142.36 L715.24,142.40 L716.05,142.43 L716.86,142.46 L717.68,142.50 L718.51,142.53 L719.34,142.57 L720.17,142.60 L721.01,142.63 L721.86,142.67 L722.71,142.70 L723.56,142.73 L724.42,142.77 L725.29,142.80 L726.16,142.83 L727.03,142.86 L727.92,142.89 L728.80,142.93 L729.70,142.96 L730.59,142.99 L731.50,143.02 L732.41,143.05 L733.32,143.08 L734.24,143.11 L735.17,143.14 L736.10,143.17 L737.04,143.20 L737.98,143.23 L738.93,143.26 L739.89,143.29 L740.85,143.32 L741.81,143.35 L742.79,143.37 L743.76,143.40 L744.75,143.43 L745.74,143.46 L746.74,143.49 L747.74,143.52 L748.75,143.54 L749.76,143.57 L750.79,143.60 L751.81,143.62 L752.85,143.65 L753.89,143.68 L754.93,143.70 L755.99,143.73 L757.05,143.76 L758.11,143.78 L759.19,143.81 L760.27,143.83 L761.35,143.86 L762.45,143.88 L763.55,143.91 L764.65,143.93 L765.76,143.96 L766.88,143.98 L768.01,144.01 L769.15,144.03 L770.29,144.06 L771.43,144.08 L772.59,144.10 L773.75,144.13 L774.92,144.15 L776.10,144.17 L777.28,144.20 L778.47,144.22 L779.67,144.24 L780.87,144.27 L782.09,144.29 L783.31,144.31 L784.53,144.33 L785.77,144.36 L787.01,144.38 L788.26,144.40 L789.52,144.42 L790.79,144.44 L792.06,144.46 L793.34,144.49 L794.63,144.51 L795.93,144.53 L797.24,144.55 L798.55,144.57 L799.87,144.59 L801.20,144.61 L802.54,144.63 L803.89,144.65 L805.24,144.67 L806.60,144.69 L807.97,144.71 L809.35,144.73 L810.74,144.75 L812.14,144.77 L813.54,144.79 L814.96,144.81 L816.38,144.83 L817.81,144.85 L819.25,144.86 L820.70,144.88 L822.16,144.90 L823.62,144.92 L825.10,144.94 L826.58,144.96 L828.08,144.98 L829.58,144.99 L831.09,145.01 L832.62,145.03 L834.15,145.05 L835.69,145.06 L837.24,145.08 L838.80,145.10 L840.37,145.12 L841.94,145.13 L843.53,145.15 L845.13,145.17 L846.74,145.19 L848.36,145.20 L849.99,145.22 L851.62,145.24 L853.27,145.25 L854.93,145.27 L856.60,145.29 L858.28,145.30 L859.97,145.32 L861.66,145.33 L863.37,145.35 L865.09,145.37 L866.83,145.38 L868.57,145.40 L870.32,145.41 L872.08,145.43 L873.86,145.45 L875.64,145.46 L877.44,145.48 L879.24,145.49 L881.06,145.51 L882.89,145.52 L884.73,145.54 L886.58,145.55 L888.44,145.57 L890.32,145.58 L892.20,145.60 L894.10,145.61 L896.01,145.63 L897.93,145.64 L899.87,145.66 L901.81,145.67 L903.77,145.69 L905.74,145.70 L907.72,145.72 L909.71,145.73 L911.71,145.75 L913.73,145.76 L915.76,145.78 L917.80,145.79 L919.86,145.80 L921.93,145.82 L924.01,145.83 L926.10,145.85 L928.21,145.86 L930.32,145.88 L932.46,145.89 L934.60,145.91 L936.76,145.92 L938.93,145.93 L941.12,145.95 L943.32,145.96 L945.53,145.98 L947.75,145.99 L949.99,146.00 L952.24,146.02 L954.51,146.03 L956.79,146.05 L959.09,146.06 L961.40,146.08 L963.72,146.09 L966.06,146.10 L968.41,146.12 L970.77,146.13 L973.15,146.15 L975.55,146.16 L977.96,146.17 L980.38,146.19 L982.82,146.20 L985.28,146.22 L987.75,146.23 L990.23,146.25 L992.74,146.26 L995.25,146.27 L997.78,146.29 L1000.33,146.30 L1002.89,146.32 L1005.47,146.33 L1008.06,146.35 L1010.67,146.36 L1013.30,146.38" stroke="#ff0000" stroke-width="2.4" stroke-dasharray="2.2 5.9 9.6 5.9 2.2 5.7" fill="none"/>
<path d="M583.65,211.68 L583.86,210.90 L584.26,210.28 L584.76,209.69 L585.36,209.10 L586.05,208.51 L586.80,207.92 L587.62,207.34 L588.50,206.75 L589.44,206.16 L590.43,205.58 L591.47,204.99 L592.56,204.40 L593.69,203.81 L594.88,203.22 L596.10,202.63 L597.37,202.05 L598.67,201.46 L600.02,200.88 L601.40,200.30 L602.82,199.72 L604.27,199.14 L605.76,198.57 L607.29,198.00 L608.85,197.43 L610.44,196.86 L612.06,196.30 L613.72,195.74 L615.40,195.19 L617.12,194.63 L618.86,194.09 L620.64,193.54 L622.44,193.00 L624.27,192.47 L626.14,191.94 L628.02,191.41 L629.94,190.89 L631.88,190.37 L633.85,189.85 L635.84,189.34 L637.86,188.84 L639.91,188.34 L641.98,187.85 L644.08,187.35 L646.20,186.87 L648.34,186.39 L650.51,185.91 L652.70,185.44 L654.92,184.98 L657.15,184.52 L659.42,184.06 L661.70,183.61 L664.01,183.17 L666.34,182.73 L668.69,182.30 L671.06,181.87 L673.46,181.44 L675.87,181.03 L678.31,180.61 L680.77,180.20 L683.25,179.80 L685.75,179.40 L688.27,179.01 L690.81,178.62 L693.37,178.24 L695.95,177.86 L698.55,177.49 L701.18,177.12 L703.82,176.76 L706.48,176.40 L709.16,176.05 L711.86,175.71 L714.57,175.36 L717.31,175.03 L720.07,174.70 L722.84,174.37 L725.63,174.05 L728.45,173.73 L731.28,173.42 L734.12,173.11 L736.99,172.81 L739.87,172.51 L742.78,172.22 L745.70,171.93 L748.63,171.64 L751.59,171.36 L754.56,171.09 L757.55,170.82 L760.56,170.55 L763.58,170.29 L766.62,170.03 L769.68,169.78 L772.75,169.53 L775.85,169.28 L778.95,169.04 L782.08,168.81 L785.22,168.57 L788.38,168.34 L791.55,168.12 L794.74,167.90 L797.95,167.68 L801.17,167.47 L804.41,167.26 L807.66,167.05 L810.93,166.85 L814.22,166.65 L817.52,166.45 L820.84,166.26 L824.17,166.07 L827.52,165.88 L830.88,165.70 L834.26,165.52 L837.66,165.34 L841.07,165.17 L844.49,164.99 L847.93,164.83 L851.39,164.66 L854.86,164.50 L858.34,164.34 L861.84,164.18 L865.35,164.02 L868.88,163.87 L872.42,163.72 L875.98,163.57 L879.55,163.42 L883.14,163.28 L886.74,163.14 L890.36,162.99 L893.99,162.86 L897.63,162.72 L901.29,162.58 L904.96,162.45 L908.65,162.32 L912.35,162.19 L916.06,162.06 L919.79,161.93 L923.53,161.80 L927.29,161.68 L931.06,161.55 L934.84,161.43 L938.64,161.31 L942.45,161.18 L946.27,161.06 L950.11,160.94 L953.96,160.82 L957.82,160.70 L961.70,160.58 L965.59,160.46 L969.49,160.35 L973.41,160.23 L977.34,160.11 L981.28,159.99 L985.24,159.87 L989.21,159.75 L993.19,159.63 L997.19,159.51 L1001.20,159.39 L1005.22,159.27 L1009.25,159.15 L1013.30,159.03" stroke="#ff0000" stroke-width="2.4" stroke-dasharray="2.2 5.9 9.6 5.9 2.2 5.7" stroke-dashoffset="-1.2" fill="none"/>
<rect x="583.65" y="16.2" width="433.85" height="259.80" fill="none" stroke="#000" stroke-width="1.6"/>
<path d="M627.03,276.0 v-8.9 M627.03,16.2 v8.9 M670.42,276.0 v-17.8 M670.42,16.2 v17.8 M713.81,276.0 v-8.9 M713.81,16.2 v8.9 M757.19,276.0 v-17.8 M757.19,16.2 v17.8 M800.58,276.0 v-8.9 M800.58,16.2 v8.9 M843.96,276.0 v-17.8 M843.96,16.2 v17.8 M887.35,276.0 v-8.9 M887.35,16.2 v8.9 M930.73,276.0 v-17.8 M930.73,16.2 v17.8 M974.12,276.0 v-8.9 M974.12,16.2 v8.9 M583.65,211.05 h8.9 M1017.5,211.05 h-8.9 M583.65,146.10 h17.8 M1017.5,146.10 h-17.8 M583.65,81.15 h8.9 M1017.5,81.15 h-8.9" stroke="#000" stroke-width="1.6" fill="none"/>
<text x="583.65" y="297.5" text-anchor="middle" class="tk">0</text>
<text x="670.42" y="299.6" text-anchor="middle" class="tk">0.2</text>
<text x="757.19" y="299.6" text-anchor="middle" class="tk">0.4</text>
<text x="843.96" y="299.6" text-anchor="middle" class="tk">0.6</text>
<text x="930.73" y="299.6" text-anchor="middle" class="tk">0.8</text>
<text x="1017.50" y="297.5" text-anchor="middle" class="tk">1</text>
<text x="575.65" y="282.70" text-anchor="end" class="tk">0</text>
<text x="575.65" y="152.80" text-anchor="end" class="tk">1</text>
<text x="575.65" y="22.90" text-anchor="end" class="tk">2</text>
<text transform="translate(28.8,279.3) rotate(-90)" class="yl">Relaxation times (x <tspan class="sym">α</tspan><tspan dx="-1.2"> T</tspan><tspan class="sub" dy="9.7" dx="2">I</tspan><tspan dy="-9.7" dx="0.8">/C)</tspan></text>
<text transform="translate(548.6,279.3) rotate(-90)" class="yl">Relaxation times (x <tspan class="sym">α</tspan><tspan dx="-1.2"> T</tspan><tspan class="sub" dy="9.7" dx="2">I</tspan><tspan dy="-9.7" dx="0.8">/C)</tspan></text>
<text transform="translate(280.7,321.2) scale(1.22,1)" text-anchor="middle" class="tau">τ</text>
<text transform="translate(800.6,321.2) scale(1.22,1)" text-anchor="middle" class="tau">τ</text>
<text x="99.7" y="63" class="pl">(a)</text>
<text x="619.6" y="63" class="pl">(b)</text>
<text x="168.3" y="116" class="lab">t<tspan class="sub" dy="9.5">1</tspan></text>
<text x="168.3" y="224.5" class="lab">t<tspan class="sub" dy="9.5">2</tspan></text>
<text x="705.3" y="116" class="lab">t<tspan class="sub" dy="9.5">1</tspan></text>
<text x="705.3" y="226.5" class="lab">t<tspan class="sub" dy="9.5">2</tspan></text>
<text x="242.3" y="89.8" class="an">f=0.25</text>
<text x="783.2" y="89.7" class="an">R=1</text>
<rect x="323.8" y="42.4" width="144.40" height="83.60" fill="#fff" stroke="#000" stroke-width="1.6"/>
<path d="M333.4,59.2 H368.3" stroke="#000" stroke-width="2.4" fill="none"/>
<text x="386.5" y="67.3" class="lab">R=1</text>
<path d="M333.4,84.5 H368.3" stroke="#0000ff" stroke-width="2.4" stroke-dasharray="9.6 6.1" fill="none"/>
<text x="386.5" y="92.4" class="lab">R=0.75</text>
<path d="M333.4,109.6 H368.3" stroke="#ff0000" stroke-width="2.4" stroke-dasharray="2.2 5.9 9.6 5.9 2.2 5.7" fill="none"/>
<text x="386.5" y="117.6" class="lab">R=0.5</text>
<rect x="856.5" y="42.4" width="129.90" height="88.10" fill="#fff" stroke="#000" stroke-width="1.6"/>
<path d="M866,59.6 H901.5" stroke="#000" stroke-width="2.4" fill="none"/>
<text x="919.3" y="64.9" class="lb">f=0</text>
<path d="M866,86.4 H901.5" stroke="#0000ff" stroke-width="2.4" stroke-dasharray="9.6 6.1" fill="none"/>
<text x="919.3" y="91.7" class="lb">f=0.5</text>
<path d="M866,113.5 H901.5" stroke="#ff0000" stroke-width="2.4" stroke-dasharray="2.2 5.9 9.6 5.9 2.2 5.7" fill="none"/>
<text x="919.3" y="118.5" class="lb">f=0.75</text>
</svg>
</body></html>
